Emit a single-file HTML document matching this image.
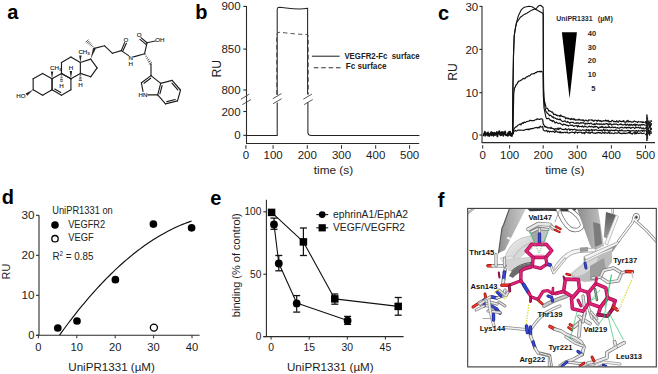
<!DOCTYPE html>
<html><head><meta charset="utf-8"><style>
html,body{margin:0;padding:0;background:#fff;width:658px;height:374px;overflow:hidden;}
svg{display:block;font-family:"Liberation Sans", sans-serif;}
</style></head><body>
<svg width="658" height="374" viewBox="0 0 658 374">
<rect width="658" height="374" fill="#fff"/>
<text x="7.20" y="18.80" font-size="20" text-anchor="start" font-weight="bold" fill="#000" >a</text>
<text x="195.20" y="19.10" font-size="20" text-anchor="start" font-weight="bold" fill="#000" >b</text>
<text x="438.00" y="19.80" font-size="20" text-anchor="start" font-weight="bold" fill="#000" >c</text>
<text x="1.70" y="204.00" font-size="20" text-anchor="start" font-weight="bold" fill="#000" >d</text>
<text x="210.30" y="204.60" font-size="20" text-anchor="start" font-weight="bold" fill="#000" >e</text>
<text x="437.80" y="207.00" font-size="20" text-anchor="start" font-weight="bold" fill="#000" >f</text>
<polygon points="33.16,89.75 25.58,93.46 27.22,95.74" fill="#222"/>
<polygon points="52.04,78.85 53.24,71.40 50.84,71.40" fill="#222"/>
<polygon points="80.36,62.50 81.56,55.60 79.16,55.60" fill="#222"/>
<polygon points="70.92,78.85 72.12,71.00 69.72,71.00" fill="#222"/>
<polygon points="90.70,59.10 95.72,48.86 93.08,47.94" fill="#222"/>
<g stroke="#1e1e1e" stroke-width="1.15" stroke-linecap="round"><line x1="42.60" y1="73.40" x2="52.04" y2="78.85"/><line x1="52.04" y1="78.85" x2="52.04" y2="89.75"/><line x1="52.04" y1="89.75" x2="42.60" y2="95.20"/><line x1="42.60" y1="95.20" x2="33.16" y2="89.75"/><line x1="33.16" y1="89.75" x2="33.16" y2="78.85"/><line x1="33.16" y1="78.85" x2="42.60" y2="73.40"/><line x1="61.48" y1="73.40" x2="70.92" y2="78.85"/><line x1="70.92" y1="78.85" x2="70.92" y2="89.75"/><line x1="70.92" y1="89.75" x2="61.48" y2="95.20"/><line x1="61.48" y1="95.20" x2="52.04" y2="89.75"/><line x1="52.04" y1="89.75" x2="52.04" y2="78.85"/><line x1="52.04" y1="78.85" x2="61.48" y2="73.40"/><line x1="70.92" y1="57.05" x2="80.36" y2="62.50"/><line x1="80.36" y1="62.50" x2="80.36" y2="73.40"/><line x1="80.36" y1="73.40" x2="70.92" y2="78.85"/><line x1="70.92" y1="78.85" x2="61.48" y2="73.40"/><line x1="61.48" y1="73.40" x2="61.48" y2="62.50"/><line x1="61.48" y1="62.50" x2="70.92" y2="57.05"/><line x1="80.36" y1="62.50" x2="90.70" y2="59.10"/><line x1="90.70" y1="59.10" x2="97.10" y2="67.95"/><line x1="97.10" y1="67.95" x2="90.70" y2="76.80"/><line x1="90.70" y1="76.80" x2="80.36" y2="73.40"/><line x1="54.74" y1="89.00" x2="60.78" y2="92.49"/><line x1="61.61" y1="74.26" x2="61.35" y2="74.26" stroke-width="0.8"/><line x1="61.87" y1="75.98" x2="61.09" y2="75.98" stroke-width="0.8"/><line x1="62.13" y1="77.70" x2="60.83" y2="77.70" stroke-width="0.8"/><line x1="62.39" y1="79.42" x2="60.57" y2="79.42" stroke-width="0.8"/><line x1="62.65" y1="81.14" x2="60.31" y2="81.14" stroke-width="0.8"/><line x1="80.49" y1="74.18" x2="80.23" y2="74.18" stroke-width="0.8"/><line x1="80.75" y1="75.74" x2="79.97" y2="75.74" stroke-width="0.8"/><line x1="81.01" y1="77.30" x2="79.71" y2="77.30" stroke-width="0.8"/><line x1="81.27" y1="78.86" x2="79.45" y2="78.86" stroke-width="0.8"/><line x1="81.53" y1="80.42" x2="79.19" y2="80.42" stroke-width="0.8"/><line x1="93.74" y1="47.91" x2="93.91" y2="47.74" stroke-width="0.8"/><line x1="92.43" y1="46.94" x2="92.94" y2="46.43" stroke-width="0.8"/><line x1="91.11" y1="45.97" x2="91.97" y2="45.11" stroke-width="0.8"/><line x1="89.80" y1="45.00" x2="91.00" y2="43.80" stroke-width="0.8"/><line x1="88.48" y1="44.03" x2="90.03" y2="42.48" stroke-width="0.8"/><line x1="87.17" y1="43.06" x2="89.06" y2="41.17" stroke-width="0.8"/><line x1="85.86" y1="42.09" x2="88.09" y2="39.86" stroke-width="0.8"/><line x1="94.40" y1="48.40" x2="104.60" y2="45.80"/><line x1="104.60" y1="45.80" x2="112.50" y2="53.30"/><line x1="112.50" y1="53.30" x2="121.30" y2="50.60"/><line x1="121.30" y1="50.60" x2="124.60" y2="42.60"/><line x1="122.80" y1="51.00" x2="126.40" y2="43.30"/><line x1="121.30" y1="50.60" x2="128.60" y2="55.60"/><line x1="133.60" y1="56.90" x2="144.60" y2="53.70"/><line x1="144.60" y1="53.70" x2="147.00" y2="42.80"/><line x1="147.00" y1="42.80" x2="141.00" y2="37.60"/><line x1="146.00" y1="44.40" x2="140.00" y2="39.40"/><line x1="147.00" y1="42.80" x2="155.20" y2="41.00"/><line x1="145.25" y1="54.51" x2="145.02" y2="54.64" stroke-width="0.8"/><line x1="146.54" y1="56.12" x2="145.86" y2="56.53" stroke-width="0.8"/><line x1="147.84" y1="57.73" x2="146.70" y2="58.42" stroke-width="0.8"/><line x1="149.13" y1="59.34" x2="147.54" y2="60.31" stroke-width="0.8"/><line x1="150.42" y1="60.95" x2="148.38" y2="62.20" stroke-width="0.8"/><line x1="151.72" y1="62.56" x2="149.21" y2="64.09" stroke-width="0.8"/><line x1="151.00" y1="64.20" x2="151.00" y2="75.60"/><line x1="151.00" y1="75.60" x2="141.40" y2="82.80"/><line x1="151.00" y1="75.60" x2="160.70" y2="83.40"/><line x1="160.70" y1="83.40" x2="157.70" y2="94.80"/><line x1="160.70" y1="83.40" x2="172.10" y2="80.40"/><line x1="172.10" y1="80.40" x2="180.50" y2="90.00"/><line x1="180.50" y1="90.00" x2="177.50" y2="100.90"/><line x1="177.50" y1="100.90" x2="165.50" y2="103.90"/><line x1="165.50" y1="103.90" x2="157.70" y2="94.80"/><line x1="141.40" y1="82.80" x2="143.00" y2="91.50"/><line x1="147.80" y1="94.80" x2="157.70" y2="94.80"/><line x1="150.70" y1="78.20" x2="143.98" y2="83.24"/><line x1="162.09" y1="85.59" x2="159.99" y2="93.57"/><line x1="171.93" y1="83.09" x2="177.81" y2="89.81"/><line x1="175.24" y1="99.51" x2="166.84" y2="101.61"/></g>
<text x="21.00" y="98.20" font-size="6.2" text-anchor="middle" fill="#111" stroke="#111" stroke-width="0.12">HO</text>
<text x="50.00" y="69.80" font-size="6.2" text-anchor="start" fill="#111" stroke="#111" stroke-width="0.12">CH<tspan font-size="4.4" dy="1.2">3</tspan></text>
<text x="78.40" y="54.00" font-size="6.2" text-anchor="start" fill="#111" stroke="#111" stroke-width="0.12">CH<tspan font-size="4.4" dy="1.2">3</tspan></text>
<text x="61.50" y="87.80" font-size="6.2" text-anchor="middle" fill="#111" stroke="#111" stroke-width="0.12">H</text>
<text x="71.00" y="69.80" font-size="6.2" text-anchor="middle" fill="#111" stroke="#111" stroke-width="0.12">H</text>
<text x="80.40" y="86.60" font-size="6.2" text-anchor="middle" fill="#111" stroke="#111" stroke-width="0.12">H</text>
<text x="125.90" y="41.80" font-size="6.2" text-anchor="middle" fill="#111" stroke="#111" stroke-width="0.12">O</text>
<text x="130.80" y="60.40" font-size="6.2" text-anchor="middle" fill="#111" stroke="#111" stroke-width="0.12">N</text>
<text x="130.80" y="65.80" font-size="6.2" text-anchor="middle" fill="#111" stroke="#111" stroke-width="0.12">H</text>
<text x="139.20" y="36.60" font-size="6.2" text-anchor="middle" fill="#111" stroke="#111" stroke-width="0.12">O</text>
<text x="155.20" y="41.90" font-size="6.2" text-anchor="start" fill="#111" stroke="#111" stroke-width="0.12">OH</text>
<text x="143.00" y="96.90" font-size="6.2" text-anchor="middle" fill="#111" stroke="#111" stroke-width="0.12">HN</text>
<line x1="246.50" y1="6.00" x2="246.50" y2="143.50" stroke="#2a2a2a" stroke-width="1.1" />
<line x1="246.00" y1="143.50" x2="419.20" y2="143.50" stroke="#2a2a2a" stroke-width="1.1" />
<line x1="243.30" y1="6.40" x2="246.50" y2="6.40" stroke="#2a2a2a" stroke-width="1.1" />
<text x="240.60" y="10.40" font-size="11.5" text-anchor="end" font-weight="normal" fill="#1c1c1c" >900</text>
<line x1="243.30" y1="49.10" x2="246.50" y2="49.10" stroke="#2a2a2a" stroke-width="1.1" />
<text x="240.60" y="53.10" font-size="11.5" text-anchor="end" font-weight="normal" fill="#1c1c1c" >850</text>
<line x1="243.30" y1="90.00" x2="246.50" y2="90.00" stroke="#2a2a2a" stroke-width="1.1" />
<text x="240.60" y="94.00" font-size="11.5" text-anchor="end" font-weight="normal" fill="#1c1c1c" >800</text>
<line x1="243.30" y1="111.50" x2="246.50" y2="111.50" stroke="#2a2a2a" stroke-width="1.1" />
<text x="240.60" y="115.50" font-size="11.5" text-anchor="end" font-weight="normal" fill="#1c1c1c" >200</text>
<line x1="243.30" y1="135.30" x2="246.50" y2="135.30" stroke="#2a2a2a" stroke-width="1.1" />
<text x="240.60" y="139.30" font-size="11.5" text-anchor="end" font-weight="normal" fill="#1c1c1c" >0</text>
<line x1="245.90" y1="145.20" x2="245.90" y2="148.80" stroke="#2a2a2a" stroke-width="1.0" />
<text x="245.90" y="158.50" font-size="11.5" text-anchor="middle" font-weight="normal" fill="#1c1c1c" >0</text>
<line x1="273.10" y1="145.20" x2="273.10" y2="148.80" stroke="#2a2a2a" stroke-width="1.0" />
<text x="273.10" y="158.50" font-size="11.5" text-anchor="middle" font-weight="normal" fill="#1c1c1c" >100</text>
<line x1="307.30" y1="145.20" x2="307.30" y2="148.80" stroke="#2a2a2a" stroke-width="1.0" />
<text x="307.30" y="158.50" font-size="11.5" text-anchor="middle" font-weight="normal" fill="#1c1c1c" >200</text>
<line x1="341.50" y1="145.20" x2="341.50" y2="148.80" stroke="#2a2a2a" stroke-width="1.0" />
<text x="341.50" y="158.50" font-size="11.5" text-anchor="middle" font-weight="normal" fill="#1c1c1c" >300</text>
<line x1="375.70" y1="145.20" x2="375.70" y2="148.80" stroke="#2a2a2a" stroke-width="1.0" />
<text x="375.70" y="158.50" font-size="11.5" text-anchor="middle" font-weight="normal" fill="#1c1c1c" >400</text>
<line x1="409.60" y1="145.20" x2="409.60" y2="148.80" stroke="#2a2a2a" stroke-width="1.0" />
<text x="409.60" y="158.50" font-size="11.5" text-anchor="middle" font-weight="normal" fill="#1c1c1c" >500</text>
<text x="333.40" y="173.90" font-size="11.8" text-anchor="middle" font-weight="normal" fill="#1c1c1c" >time (s)</text>
<text transform="translate(220.6,68.8) rotate(-90)" font-size="12.2" text-anchor="middle" fill="#1c1c1c">RU</text>
<line x1="240.80" y1="99.30" x2="249.30" y2="94.10" stroke="#444" stroke-width="0.9" />
<line x1="242.30" y1="104.60" x2="250.90" y2="99.60" stroke="#444" stroke-width="0.9" />
<line x1="272.80" y1="98.70" x2="281.40" y2="93.60" stroke="#444" stroke-width="0.9" />
<line x1="273.10" y1="103.70" x2="281.60" y2="98.70" stroke="#444" stroke-width="0.9" />
<line x1="303.30" y1="99.20" x2="311.90" y2="94.10" stroke="#444" stroke-width="0.9" />
<line x1="304.10" y1="104.60" x2="312.70" y2="99.50" stroke="#444" stroke-width="0.9" />
<path d="M246.5,135.4 H277.2 V102.6 M277.2,95.0 V9.2 Q277.4,7.3 279.5,7.3 C287,7.8 297,10.2 307.6,8.3 V94.4 M307.9,102.6 V133.0 Q308.2,135.5 311.5,135.5 H419.4" fill="none" stroke="#222" stroke-width="1.05"/>
<path d="M276.7,94.5 V35 Q276.9,32.0 280.0,32.2 C286,32.9 295,34.3 307.4,34.5 Q308.3,34.6 308.3,37 V94.5" fill="none" stroke="#444" stroke-width="0.9" stroke-dasharray="4.5,3"/>
<line x1="311.90" y1="56.20" x2="339.60" y2="56.20" stroke="#222" stroke-width="1.05" />
<text x="344.40" y="58.90" font-size="8.4" text-anchor="start" font-weight="bold" fill="#222" textLength="75.2" lengthAdjust="spacingAndGlyphs">VEGFR2-Fc&#160; surface</text>
<line x1="313.80" y1="67.70" x2="341.60" y2="67.70" stroke="#333" stroke-width="1.05" stroke-dasharray="4.6,2.8"/>
<text x="345.70" y="69.30" font-size="8.4" text-anchor="start" font-weight="bold" fill="#222" textLength="40.8" lengthAdjust="spacingAndGlyphs">Fc surface</text>
<line x1="482.00" y1="6.00" x2="482.00" y2="142.60" stroke="#2a2a2a" stroke-width="1.1" />
<line x1="481.50" y1="142.60" x2="655.00" y2="142.60" stroke="#2a2a2a" stroke-width="1.1" />
<line x1="479.40" y1="6.40" x2="482.00" y2="6.40" stroke="#2a2a2a" stroke-width="1.1" />
<text x="478.20" y="10.90" font-size="11.5" text-anchor="end" font-weight="normal" fill="#1c1c1c" >30</text>
<line x1="479.40" y1="49.40" x2="482.00" y2="49.40" stroke="#2a2a2a" stroke-width="1.1" />
<text x="478.20" y="53.90" font-size="11.5" text-anchor="end" font-weight="normal" fill="#1c1c1c" >20</text>
<line x1="479.40" y1="92.70" x2="482.00" y2="92.70" stroke="#2a2a2a" stroke-width="1.1" />
<text x="478.20" y="97.20" font-size="11.5" text-anchor="end" font-weight="normal" fill="#1c1c1c" >10</text>
<line x1="479.40" y1="135.00" x2="482.00" y2="135.00" stroke="#2a2a2a" stroke-width="1.1" />
<text x="478.20" y="139.50" font-size="11.5" text-anchor="end" font-weight="normal" fill="#1c1c1c" >0</text>
<line x1="482.70" y1="145.20" x2="482.70" y2="148.60" stroke="#2a2a2a" stroke-width="1.0" />
<text x="482.70" y="159.00" font-size="11.5" text-anchor="middle" font-weight="normal" fill="#1c1c1c" >0</text>
<line x1="509.60" y1="145.20" x2="509.60" y2="148.60" stroke="#2a2a2a" stroke-width="1.0" />
<text x="509.60" y="159.00" font-size="11.5" text-anchor="middle" font-weight="normal" fill="#1c1c1c" >100</text>
<line x1="543.20" y1="145.20" x2="543.20" y2="148.60" stroke="#2a2a2a" stroke-width="1.0" />
<text x="543.20" y="159.00" font-size="11.5" text-anchor="middle" font-weight="normal" fill="#1c1c1c" >200</text>
<line x1="577.30" y1="145.20" x2="577.30" y2="148.60" stroke="#2a2a2a" stroke-width="1.0" />
<text x="577.30" y="159.00" font-size="11.5" text-anchor="middle" font-weight="normal" fill="#1c1c1c" >300</text>
<line x1="611.40" y1="145.20" x2="611.40" y2="148.60" stroke="#2a2a2a" stroke-width="1.0" />
<text x="611.40" y="159.00" font-size="11.5" text-anchor="middle" font-weight="normal" fill="#1c1c1c" >400</text>
<line x1="645.50" y1="145.20" x2="645.50" y2="148.60" stroke="#2a2a2a" stroke-width="1.0" />
<text x="645.50" y="159.00" font-size="11.5" text-anchor="middle" font-weight="normal" fill="#1c1c1c" >500</text>
<text x="564.80" y="174.00" font-size="11.8" text-anchor="middle" font-weight="normal" fill="#1c1c1c" >time (s)</text>
<text transform="translate(457.4,72.0) rotate(-90)" font-size="12.2" text-anchor="middle" fill="#1c1c1c">RU</text>
<polyline points="483.50,136.15 483.95,134.52 484.40,134.12 484.85,131.76 485.30,133.67 485.75,133.57 486.20,133.90 486.65,133.25 487.10,133.95 487.55,133.43 488.00,132.42 488.45,135.06 488.90,135.06 489.35,136.05 489.80,134.06 490.25,133.51 490.70,133.35 491.15,132.14 491.60,135.18 492.05,132.68 492.50,132.58 492.95,133.75 493.40,135.78 493.85,134.28 494.30,132.77 494.75,133.14 495.20,134.75 495.65,133.81 496.10,133.08 496.55,133.72 497.00,134.89 497.45,136.37 497.90,132.51 498.35,133.25 498.80,133.04 499.25,131.10 499.70,132.89 500.15,132.77 500.60,135.35 501.05,133.84 501.50,132.05 501.95,134.78 502.40,133.57 502.85,131.91 503.30,133.28 503.75,133.29 504.20,132.95 504.65,134.04 505.10,131.30 505.55,133.68 506.00,135.22 506.45,135.02 506.90,135.33 507.35,135.34 507.80,135.79 508.25,132.66 508.70,135.02 509.15,131.77 509.60,133.28 510.05,131.70 510.50,135.26 510.95,135.60 511.40,133.76 511.85,136.13 512.30,133.19 512.75,134.18" fill="none" stroke="#111" stroke-width="1.8" stroke-linejoin="round" />
<polyline points="483.50,134.44 484.10,133.34 484.70,134.69 485.30,136.05 485.90,133.38 486.50,135.11 487.10,134.16 487.70,135.89 488.30,134.74 488.90,134.91 489.50,134.88 490.10,134.52 490.70,133.04 491.30,135.55 491.90,133.07 492.50,134.51 493.10,134.85 493.70,133.55 494.30,134.43 494.90,135.35 495.50,134.28 496.10,133.50 496.70,131.68 497.30,133.43 497.90,133.77 498.50,133.84 499.10,133.44 499.70,134.64 500.30,133.78 500.90,134.20 501.50,134.91 502.10,133.53 502.70,134.03 503.30,136.24 503.90,135.09 504.50,133.14 505.10,134.23 505.70,134.81 506.30,135.41 506.90,134.43 507.50,133.82 508.10,133.64 508.70,134.88 509.30,134.58 509.90,133.84 510.50,134.13 511.10,133.93 511.70,134.95 512.30,133.68 512.90,134.74" fill="none" stroke="#111" stroke-width="1.2" stroke-linejoin="round" />
<polyline points="512.60,134.00 512.90,90.00 513.50,55.00 514.20,36.00 515.40,28.00 516.60,22.10 518.50,15.40 521.40,9.60 524.30,7.20 529.10,6.30 532.00,6.70 535.80,9.10 537.50,7.00 538.70,5.80 540.60,5.30 543.00,7.20 543.30,8.50" fill="none" stroke="#111" stroke-width="1.1" stroke-linejoin="round" />
<polyline points="512.60,134.00 512.90,90.00 513.50,55.00 514.20,36.00 515.40,28.00 516.60,22.60 520.40,17.30 524.30,14.40 527.20,13.00 531.00,10.60 534.90,9.10 537.80,10.60 543.20,13.50" fill="none" stroke="#111" stroke-width="1.1" stroke-linejoin="round" />
<polyline points="512.90,134.30 513.70,93.67 514.50,88.20 515.30,86.93 516.10,84.79 516.90,84.10 517.70,82.61 518.50,81.19 519.30,81.19 520.10,80.76 520.90,80.18 521.70,79.85 522.50,79.07 523.30,78.58 524.10,78.32 524.90,78.60 525.70,77.79 526.50,76.92 527.30,76.90 528.10,76.13 528.90,75.74 529.70,75.80 530.50,74.92 531.30,74.11 532.10,73.99 532.90,73.95 533.70,73.58 534.50,73.58 535.30,72.51 536.10,72.62 536.90,72.13 537.70,71.54 538.50,71.72 539.30,71.65 540.10,71.22 540.90,71.95 541.70,71.34 542.50,72.11" fill="none" stroke="#111" stroke-width="1.2" stroke-linejoin="round" />
<polyline points="512.90,134.00 513.70,129.88 514.50,127.95 515.30,127.52 516.10,126.81 516.90,126.54 517.70,125.24 518.50,125.00 519.30,124.53 520.10,123.83 520.90,124.87 521.70,123.57 522.50,122.73 523.30,123.40 524.10,122.18 524.90,122.38 525.70,122.35 526.50,121.62 527.30,121.49 528.10,121.25 528.90,121.19 529.70,120.47 530.50,120.40 531.30,120.58 532.10,120.79 532.90,120.51 533.70,120.77 534.50,120.28 535.30,119.73 536.10,119.73 536.90,118.94 537.70,119.19 538.50,119.04 539.30,119.36 540.10,119.37 540.90,118.82 541.70,118.75 542.50,118.90" fill="none" stroke="#111" stroke-width="1.2" stroke-linejoin="round" />
<polyline points="512.90,133.96 513.70,131.22 514.50,131.04 515.30,130.35 516.10,131.09 516.90,130.77 517.70,130.28 518.50,130.09 519.30,130.12 520.10,130.24 520.90,130.12 521.70,130.22 522.50,130.26 523.30,130.40 524.10,130.25 524.90,129.72 525.70,129.75 526.50,129.33 527.30,129.11 528.10,129.83 528.90,128.86 529.70,129.56 530.50,128.60 531.30,128.66 532.10,128.80 532.90,128.29 533.70,128.29 534.50,127.93 535.30,127.72 536.10,127.69 536.90,127.39 537.70,128.05 538.50,127.29 539.30,127.82 540.10,126.14 540.90,126.96 541.70,127.03 542.50,126.61" fill="none" stroke="#111" stroke-width="1.2" stroke-linejoin="round" />
<polyline points="543.20,8.50 543.30,60.00 543.50,90.00 544.20,100.00 546.00,107.20" fill="none" stroke="#111" stroke-width="1.1" stroke-linejoin="round" />
<polyline points="546.00,107.69 546.70,108.15 547.40,108.41 548.10,109.39 548.80,111.13 549.50,110.64 550.20,111.27 550.90,111.41 551.60,112.14 552.30,111.97 553.00,112.94 553.70,114.60 554.40,114.32 555.10,114.37 555.80,114.83 556.50,115.42 557.20,115.09 557.90,116.00 558.60,115.79 559.30,115.63 560.00,116.57 560.70,114.98 561.40,116.03 562.10,116.65 562.80,116.32 563.50,116.86 564.20,116.85 564.90,117.04 565.60,118.76 566.30,118.02 567.00,117.91 567.70,118.73 568.40,118.23 569.10,118.94 569.80,118.90 570.50,119.59 571.20,118.31 571.90,119.37 572.60,119.17 573.30,118.68 574.00,119.76 574.70,118.97 575.40,120.18 576.10,119.76 576.80,119.93 577.50,119.74 578.20,120.19 578.90,119.03 579.60,119.99 580.30,119.73 581.00,120.17 581.70,120.06 582.40,120.39 583.10,119.76 583.80,121.00 584.50,121.24 585.20,120.14 585.90,120.26 586.60,120.43 587.30,120.90 588.00,121.21 588.70,119.85 589.40,120.15 590.10,119.98 590.80,119.99 591.50,119.78 592.20,120.71 592.90,120.06 593.60,121.29 594.30,121.05 595.00,120.21 595.70,120.24 596.40,120.46 597.10,121.40 597.80,120.42 598.50,120.16 599.20,120.84 599.90,121.06 600.60,120.62 601.30,121.67 602.00,121.07 602.70,121.18 603.40,120.62 604.10,121.01 604.80,120.97 605.50,120.04 606.20,121.22 606.90,120.30 607.60,121.12 608.30,120.49 609.00,122.08 609.70,121.34 610.40,121.60 611.10,121.65 611.80,120.66 612.50,120.25 613.20,121.15 613.90,121.72 614.60,121.38 615.30,121.71 616.00,121.80 616.70,120.73 617.40,121.55 618.10,122.33 618.80,121.21 619.50,120.57 620.20,121.40 620.90,121.31 621.60,121.72 622.30,121.14 623.00,121.60 623.70,120.58 624.40,121.97 625.10,122.32 625.80,122.20 626.50,120.95 627.20,121.79 627.90,120.32 628.60,121.80 629.30,121.66 630.00,121.25 630.70,121.87 631.40,121.79 632.10,122.16 632.80,121.81 633.50,121.88 634.20,120.91 634.90,121.28 635.60,121.60 636.30,121.96 637.00,121.84 637.70,122.53 638.40,121.48 639.10,121.77 639.80,122.01 640.50,121.81 641.20,122.15 641.90,121.68 642.60,122.59 643.30,121.82 644.00,122.48 644.70,121.98" fill="none" stroke="#111" stroke-width="1.2" stroke-linejoin="round" />
<polyline points="543.20,13.50 543.40,70.00 543.80,98.00 544.80,106.00 546.00,112.00" fill="none" stroke="#111" stroke-width="1.1" stroke-linejoin="round" />
<polyline points="546.00,112.67 546.70,112.00 547.40,113.49 548.10,113.70 548.80,114.62 549.50,115.69 550.20,115.22 550.90,115.59 551.60,116.19 552.30,117.21 553.00,116.70 553.70,118.05 554.40,117.74 555.10,118.02 555.80,118.57 556.50,119.12 557.20,118.88 557.90,119.15 558.60,119.56 559.30,119.67 560.00,118.80 560.70,120.02 561.40,120.46 562.10,121.12 562.80,121.70 563.50,121.24 564.20,121.13 564.90,120.82 565.60,121.45 566.30,121.92 567.00,122.29 567.70,121.49 568.40,122.15 569.10,122.56 569.80,123.19 570.50,122.56 571.20,122.25 571.90,122.24 572.60,122.45 573.30,122.37 574.00,123.09 574.70,123.26 575.40,123.16 576.10,123.42 576.80,122.74 577.50,123.17 578.20,122.88 578.90,123.13 579.60,123.72 580.30,123.20 581.00,122.40 581.70,123.15 582.40,122.98 583.10,122.64 583.80,123.00 584.50,123.81 585.20,124.16 585.90,123.22 586.60,123.92 587.30,124.02 588.00,123.00 588.70,123.53 589.40,123.56 590.10,123.68 590.80,122.91 591.50,123.50 592.20,124.16 592.90,124.28 593.60,124.57 594.30,123.62 595.00,124.64 595.70,124.13 596.40,123.24 597.10,124.23 597.80,123.75 598.50,124.17 599.20,123.92 599.90,124.54 600.60,124.13 601.30,123.91 602.00,124.49 602.70,124.20 603.40,123.92 604.10,124.70 604.80,123.96 605.50,123.88 606.20,123.94 606.90,123.55 607.60,123.98 608.30,125.09 609.00,123.86 609.70,124.29 610.40,123.81 611.10,124.06 611.80,125.04 612.50,124.78 613.20,124.12 613.90,124.42 614.60,124.07 615.30,124.11 616.00,124.07 616.70,124.10 617.40,124.67 618.10,124.81 618.80,124.78 619.50,124.51 620.20,123.99 620.90,124.58 621.60,124.21 622.30,125.03 623.00,124.90 623.70,125.00 624.40,124.51 625.10,123.87 625.80,125.12 626.50,125.26 627.20,124.05 627.90,124.79 628.60,125.27 629.30,124.26 630.00,125.56 630.70,124.61 631.40,124.30 632.10,125.41 632.80,124.94 633.50,124.52 634.20,125.22 634.90,123.96 635.60,125.67 636.30,124.49 637.00,125.00 637.70,124.70 638.40,125.09 639.10,125.31 639.80,124.55 640.50,125.28 641.20,124.81 641.90,124.64 642.60,124.86 643.30,124.52 644.00,124.63 644.70,125.42" fill="none" stroke="#111" stroke-width="1.2" stroke-linejoin="round" />
<polyline points="543.00,72.30 543.30,95.00 544.00,108.00 546.00,117.70" fill="none" stroke="#111" stroke-width="1.1" stroke-linejoin="round" />
<polyline points="546.00,117.63 546.70,118.60 547.40,118.66 548.10,118.39 548.80,118.39 549.50,119.32 550.20,120.13 550.90,120.40 551.60,120.41 552.30,121.55 553.00,120.54 553.70,120.99 554.40,121.84 555.10,122.99 555.80,122.42 556.50,122.01 557.20,122.96 557.90,123.23 558.60,123.57 559.30,123.19 560.00,123.24 560.70,123.81 561.40,124.09 562.10,124.78 562.80,125.16 563.50,124.04 564.20,124.29 564.90,124.65 565.60,124.72 566.30,125.20 567.00,125.36 567.70,125.41 568.40,126.05 569.10,125.53 569.80,125.28 570.50,125.13 571.20,125.41 571.90,125.44 572.60,125.11 573.30,126.30 574.00,126.12 574.70,125.89 575.40,125.72 576.10,125.45 576.80,125.79 577.50,127.08 578.20,125.30 578.90,126.40 579.60,126.71 580.30,126.47 581.00,126.29 581.70,126.80 582.40,125.98 583.10,126.74 583.80,127.16 584.50,126.07 585.20,126.19 585.90,126.64 586.60,127.04 587.30,127.22 588.00,126.95 588.70,126.36 589.40,126.18 590.10,126.81 590.80,126.90 591.50,126.25 592.20,126.79 592.90,126.94 593.60,127.28 594.30,126.38 595.00,127.10 595.70,126.34 596.40,126.70 597.10,126.88 597.80,127.62 598.50,128.45 599.20,127.09 599.90,127.22 600.60,127.47 601.30,126.42 602.00,127.39 602.70,126.51 603.40,127.82 604.10,127.75 604.80,127.35 605.50,126.77 606.20,127.91 606.90,127.29 607.60,127.24 608.30,127.47 609.00,126.45 609.70,127.44 610.40,127.71 611.10,127.43 611.80,127.36 612.50,126.88 613.20,127.62 613.90,127.44 614.60,127.37 615.30,127.13 616.00,127.79 616.70,127.98 617.40,127.61 618.10,127.86 618.80,128.07 619.50,128.20 620.20,127.61 620.90,127.42 621.60,127.35 622.30,127.55 623.00,127.81 623.70,128.00 624.40,127.40 625.10,127.67 625.80,127.17 626.50,128.20 627.20,127.47 627.90,127.82 628.60,127.35 629.30,127.55 630.00,127.39 630.70,128.48 631.40,127.89 632.10,127.67 632.80,127.33 633.50,127.50 634.20,128.04 634.90,128.55 635.60,127.17 636.30,127.41 637.00,127.76 637.70,127.57 638.40,127.12 639.10,127.89 639.80,128.23 640.50,127.20 641.20,128.02 641.90,128.37 642.60,128.39 643.30,127.78 644.00,129.02 644.70,128.24" fill="none" stroke="#111" stroke-width="1.2" stroke-linejoin="round" />
<polyline points="542.60,119.14 543.30,124.32 544.00,124.86 544.70,126.77 545.40,126.31 546.10,127.38 546.80,126.90 547.50,127.81 548.20,127.77 548.90,127.78 549.60,127.75 550.30,128.35 551.00,127.19 551.70,128.33 552.40,128.43 553.10,128.56 553.80,128.75 554.50,130.12 555.20,128.57 555.90,128.95 556.60,128.73 557.30,129.44 558.00,127.89 558.70,129.63 559.40,128.63 560.10,127.99 560.80,128.59 561.50,129.07 562.20,129.31 562.90,129.27 563.60,129.73 564.30,129.41 565.00,129.47 565.70,128.56 566.40,129.77 567.10,130.02 567.80,129.40 568.50,128.77 569.20,129.04 569.90,130.42 570.60,129.41 571.30,129.41 572.00,129.36 572.70,130.06 573.40,129.52 574.10,129.41 574.80,129.15 575.50,129.80 576.20,130.32 576.90,129.83 577.60,130.32 578.30,130.02 579.00,130.03 579.70,130.07 580.40,130.02 581.10,130.48 581.80,130.25 582.50,129.78 583.20,130.11 583.90,130.02 584.60,130.29 585.30,130.16 586.00,130.28 586.70,129.44 587.40,130.28 588.10,130.71 588.80,129.52 589.50,130.86 590.20,130.29 590.90,130.07 591.60,129.36 592.30,130.67 593.00,129.76 593.70,129.98 594.40,130.46 595.10,129.76 595.80,129.79 596.50,129.73 597.20,130.21 597.90,130.53 598.60,130.46 599.30,130.47 600.00,130.15 600.70,130.37 601.40,130.01 602.10,131.23 602.80,130.43 603.50,129.47 604.20,129.88 604.90,131.09 605.60,129.77 606.30,130.20 607.00,130.59 607.70,129.92 608.40,130.91 609.10,131.19 609.80,130.08 610.50,130.97 611.20,130.07 611.90,130.03 612.60,130.60 613.30,130.61 614.00,130.24 614.70,130.90 615.40,129.87 616.10,130.16 616.80,130.07 617.50,130.90 618.20,130.93 618.90,130.88 619.60,130.01 620.30,130.66 621.00,130.82 621.70,129.90 622.40,130.27 623.10,130.94 623.80,130.98 624.50,130.79 625.20,130.93 625.90,130.84 626.60,130.77 627.30,130.67 628.00,130.34 628.70,130.63 629.40,130.57 630.10,131.80 630.80,130.89 631.50,130.78 632.20,130.69 632.90,130.75 633.60,130.70 634.30,131.07 635.00,130.83 635.70,131.22 636.40,130.55 637.10,131.03 637.80,131.28 638.50,130.38 639.20,130.98 639.90,131.03 640.60,130.78 641.30,130.72 642.00,130.12 642.70,131.48 643.40,130.55 644.10,130.43 644.80,131.29" fill="none" stroke="#111" stroke-width="1.2" stroke-linejoin="round" />
<polyline points="542.60,125.88 543.30,130.02 544.00,130.47 544.70,130.87 545.40,130.85 546.10,130.66 546.80,130.41 547.50,131.97 548.20,131.16 548.90,131.20 549.60,132.19 550.30,131.25 551.00,131.49 551.70,131.54 552.40,131.64 553.10,131.29 553.80,131.56 554.50,132.45 555.20,132.27 555.90,130.64 556.60,131.15 557.30,132.24 558.00,132.09 558.70,132.03 559.40,132.72 560.10,131.50 560.80,132.85 561.50,132.38 562.20,132.58 562.90,132.46 563.60,132.73 564.30,132.25 565.00,132.13 565.70,132.74 566.40,132.47 567.10,131.84 567.80,133.02 568.50,132.97 569.20,133.09 569.90,132.48 570.60,132.62 571.30,132.30 572.00,132.04 572.70,132.52 573.40,132.58 574.10,132.21 574.80,133.35 575.50,131.81 576.20,132.18 576.90,132.25 577.60,133.15 578.30,132.46 579.00,132.44 579.70,132.20 580.40,132.26 581.10,132.02 581.80,133.07 582.50,132.90 583.20,133.08 583.90,132.34 584.60,133.78 585.30,132.21 586.00,131.74 586.70,132.54 587.40,132.74 588.10,133.02 588.80,132.23 589.50,132.96 590.20,133.47 590.90,132.33 591.60,132.38 592.30,131.96 593.00,132.84 593.70,133.12 594.40,133.09 595.10,133.13 595.80,133.40 596.50,132.82 597.20,133.20 597.90,132.35 598.60,132.43 599.30,132.90 600.00,132.43 600.70,133.06 601.40,133.43 602.10,133.00 602.80,132.50 603.50,132.50 604.20,133.46 604.90,132.49 605.60,132.90 606.30,132.75 607.00,132.89 607.70,133.37 608.40,132.64 609.10,132.26 609.80,133.55 610.50,133.01 611.20,133.24 611.90,132.91 612.60,133.28 613.30,133.50 614.00,133.55 614.70,132.82 615.40,132.80 616.10,133.14 616.80,133.06 617.50,133.23 618.20,132.66 618.90,131.94 619.60,133.20 620.30,133.36 621.00,133.30 621.70,133.77 622.40,133.41 623.10,132.86 623.80,133.49 624.50,133.02 625.20,133.63 625.90,133.18 626.60,133.28 627.30,133.19 628.00,133.12 628.70,132.43 629.40,133.14 630.10,132.10 630.80,133.35 631.50,133.58 632.20,134.07 632.90,133.32 633.60,132.84 634.30,132.46 635.00,134.06 635.70,132.55 636.40,133.60 637.10,132.17 637.80,133.19 638.50,133.53 639.20,133.38 639.90,133.22 640.60,132.88 641.30,132.85 642.00,133.72 642.70,133.47 643.40,133.21 644.10,133.38 644.80,132.88" fill="none" stroke="#111" stroke-width="1.2" stroke-linejoin="round" />
<polyline points="645.00,123.23 645.35,123.51 645.70,121.06 646.05,122.12 646.40,123.26 646.75,121.23 647.10,124.44 647.45,123.81 647.80,121.67 648.15,123.17 648.50,123.99 648.85,120.51 649.20,122.74 649.55,121.83 649.90,121.74 650.25,122.85 650.60,121.43 650.95,120.32 651.30,120.29 651.65,121.98" fill="none" stroke="#111" stroke-width="0.9" stroke-linejoin="round" />
<polyline points="645.00,125.75 645.35,124.97 645.70,124.82 646.05,124.96 646.40,126.55 646.75,125.64 647.10,124.10 647.45,124.65 647.80,126.45 648.15,124.30 648.50,124.53 648.85,124.97 649.20,123.72 649.55,126.08 649.90,122.37 650.25,126.74 650.60,124.48 650.95,123.49 651.30,125.34 651.65,122.95" fill="none" stroke="#111" stroke-width="0.9" stroke-linejoin="round" />
<polyline points="645.00,128.64 645.35,128.93 645.70,127.31 646.05,127.53 646.40,129.14 646.75,127.20 647.10,128.03 647.45,128.42 647.80,129.87 648.15,127.40 648.50,128.04 648.85,129.36 649.20,124.93 649.55,127.68 649.90,125.71 650.25,125.79 650.60,130.35 650.95,128.25 651.30,129.78 651.65,127.71" fill="none" stroke="#111" stroke-width="0.9" stroke-linejoin="round" />
<polyline points="645.00,131.65 645.35,130.48 645.70,130.34 646.05,130.91 646.40,131.15 646.75,132.84 647.10,130.76 647.45,131.46 647.80,130.69 648.15,131.17 648.50,129.43 648.85,132.31 649.20,130.37 649.55,131.05 649.90,130.74 650.25,132.18 650.60,131.63 650.95,131.02 651.30,131.21 651.65,131.41" fill="none" stroke="#111" stroke-width="0.9" stroke-linejoin="round" />
<polyline points="645.00,134.21 645.35,133.91 645.70,134.84 646.05,135.24 646.40,134.04 646.75,131.71 647.10,135.40 647.45,135.88 647.80,132.86 648.15,132.80 648.50,130.83 648.85,134.24 649.20,132.09 649.55,135.50 649.90,130.33 650.25,133.39 650.60,134.11 650.95,132.82 651.30,132.35 651.65,133.60" fill="none" stroke="#111" stroke-width="0.9" stroke-linejoin="round" />
<line x1="646.90" y1="114.50" x2="646.90" y2="141.00" stroke="#111" stroke-width="1.4" />
<line x1="647.60" y1="117.00" x2="647.60" y2="139.00" stroke="#222" stroke-width="1.0" />
<text x="556.20" y="21.20" font-size="7.4" text-anchor="start" font-weight="bold" fill="#2a2a35" textLength="36.4" lengthAdjust="spacingAndGlyphs">UniPR1331</text>
<text x="597.80" y="21.20" font-size="7.4" text-anchor="start" font-weight="bold" fill="#2a2a35" textLength="15.0" lengthAdjust="spacingAndGlyphs">(µM)</text>
<polygon points="561.9,32.2 576.9,32.2 569.6,98.6" fill="#000"/>
<text x="596.20" y="35.60" font-size="7.6" text-anchor="end" font-weight="bold" fill="#2a2a2a" >40</text>
<text x="596.20" y="49.70" font-size="7.6" text-anchor="end" font-weight="bold" fill="#2a2a2a" >30</text>
<text x="596.20" y="63.20" font-size="7.6" text-anchor="end" font-weight="bold" fill="#2a2a2a" >20</text>
<text x="596.20" y="76.90" font-size="7.6" text-anchor="end" font-weight="bold" fill="#2a2a2a" >10</text>
<text x="595.60" y="91.10" font-size="7.6" text-anchor="end" font-weight="bold" fill="#2a2a2a" >5</text>
<line x1="39.00" y1="215.30" x2="39.00" y2="335.30" stroke="#2a2a2a" stroke-width="1.1" />
<line x1="36.40" y1="335.30" x2="199.60" y2="335.30" stroke="#2a2a2a" stroke-width="1.1" />
<line x1="36.00" y1="215.30" x2="39.00" y2="215.30" stroke="#2a2a2a" stroke-width="1.1" />
<text x="34.50" y="219.40" font-size="11.2" text-anchor="end" font-weight="normal" fill="#1c1c1c" textLength="13.0" lengthAdjust="spacingAndGlyphs">30</text>
<line x1="36.00" y1="255.30" x2="39.00" y2="255.30" stroke="#2a2a2a" stroke-width="1.1" />
<text x="34.50" y="259.40" font-size="11.2" text-anchor="end" font-weight="normal" fill="#1c1c1c" textLength="13.0" lengthAdjust="spacingAndGlyphs">20</text>
<line x1="36.00" y1="295.30" x2="39.00" y2="295.30" stroke="#2a2a2a" stroke-width="1.1" />
<text x="34.50" y="299.40" font-size="11.2" text-anchor="end" font-weight="normal" fill="#1c1c1c" textLength="13.0" lengthAdjust="spacingAndGlyphs">10</text>
<line x1="36.00" y1="335.30" x2="39.00" y2="335.30" stroke="#2a2a2a" stroke-width="1.1" />
<text x="34.50" y="339.40" font-size="11.2" text-anchor="end" font-weight="normal" fill="#1c1c1c" >0</text>
<line x1="38.40" y1="335.30" x2="38.40" y2="338.30" stroke="#2a2a2a" stroke-width="1.0" />
<text x="38.40" y="351.10" font-size="11.2" text-anchor="middle" font-weight="normal" fill="#1c1c1c" >0</text>
<line x1="76.80" y1="335.30" x2="76.80" y2="338.30" stroke="#2a2a2a" stroke-width="1.0" />
<text x="76.80" y="351.10" font-size="11.2" text-anchor="middle" font-weight="normal" fill="#1c1c1c" >10</text>
<line x1="115.20" y1="335.30" x2="115.20" y2="338.30" stroke="#2a2a2a" stroke-width="1.0" />
<text x="115.20" y="351.10" font-size="11.2" text-anchor="middle" font-weight="normal" fill="#1c1c1c" >20</text>
<line x1="153.60" y1="335.30" x2="153.60" y2="338.30" stroke="#2a2a2a" stroke-width="1.0" />
<text x="153.60" y="351.10" font-size="11.2" text-anchor="middle" font-weight="normal" fill="#1c1c1c" >30</text>
<line x1="192.00" y1="335.30" x2="192.00" y2="338.30" stroke="#2a2a2a" stroke-width="1.0" />
<text x="192.00" y="351.10" font-size="11.2" text-anchor="middle" font-weight="normal" fill="#1c1c1c" >40</text>
<text x="111.60" y="370.70" font-size="11.6" text-anchor="middle" font-weight="normal" fill="#1c1c1c" >UniPR1331 (µM)</text>
<text transform="translate(10.2,271.6) rotate(-90)" font-size="10.8" text-anchor="middle" fill="#1c1c1c">RU</text>
<text x="52.20" y="214.30" font-size="10.0" text-anchor="start" font-weight="normal" fill="#222" textLength="60.6" lengthAdjust="spacingAndGlyphs">UniPR1331 on</text>
<circle cx="55.0" cy="225.0" r="3.8" fill="#000"/>
<text x="68.20" y="227.60" font-size="10.0" text-anchor="start" font-weight="normal" fill="#222" textLength="37.0" lengthAdjust="spacingAndGlyphs">VEGFR2</text>
<circle cx="55.0" cy="238.7" r="3.2" fill="none" stroke="#000" stroke-width="1.3"/>
<text x="68.20" y="241.30" font-size="10.0" text-anchor="start" font-weight="normal" fill="#222" textLength="25.4" lengthAdjust="spacingAndGlyphs">VEGF</text>
<text x="52.40" y="259.90" font-size="10.2" text-anchor="start" font-weight="normal" fill="#222" textLength="41" lengthAdjust="spacingAndGlyphs">R<tspan font-size="6.4" dy="-3.9">2</tspan><tspan dy="3.9"> = 0.85</tspan></text>
<circle cx="57.8" cy="328.0" r="3.85" fill="#000"/>
<circle cx="77.0" cy="321.0" r="3.85" fill="#000"/>
<circle cx="115.4" cy="279.7" r="3.85" fill="#000"/>
<circle cx="153.4" cy="224.1" r="3.85" fill="#000"/>
<circle cx="191.6" cy="227.8" r="3.85" fill="#000"/>
<circle cx="153.9" cy="327.6" r="3.55" fill="#fff" stroke="#000" stroke-width="1.3"/>
<polyline points="59.50,335.19 61.74,332.08 63.98,329.02 66.22,326.00 68.46,323.01 70.69,320.07 72.93,317.17 75.17,314.31 77.41,311.48 79.65,308.70 81.89,305.96 84.13,303.26 86.37,300.60 88.61,297.98 90.85,295.40 93.08,292.86 95.32,290.36 97.56,287.90 99.80,285.49 102.04,283.11 104.28,280.77 106.52,278.47 108.76,276.22 111.00,274.00 113.24,271.82 115.47,269.69 117.71,267.59 119.95,265.54 122.19,263.52 124.43,261.55 126.67,259.61 128.91,257.72 131.15,255.87 133.39,254.05 135.63,252.28 137.86,250.55 140.10,248.86 142.34,247.21 144.58,245.59 146.82,244.02 149.06,242.49 151.30,241.00 153.54,239.55 155.78,238.14 158.02,236.77 160.25,235.44 162.49,234.16 164.73,232.91 166.97,231.70 169.21,230.53 171.45,229.40 173.69,228.32 175.93,227.27 178.17,226.26 180.41,225.30 182.64,224.37 184.88,223.49 187.12,222.64 189.36,221.84 191.60,221.07" fill="none" stroke="#111" stroke-width="1.15" stroke-linejoin="round" />
<line x1="266.40" y1="199.80" x2="266.40" y2="336.60" stroke="#2a2a2a" stroke-width="1.1" />
<line x1="263.40" y1="336.60" x2="403.60" y2="336.60" stroke="#2a2a2a" stroke-width="1.1" />
<line x1="263.40" y1="211.80" x2="266.40" y2="211.80" stroke="#2a2a2a" stroke-width="1.1" />
<text x="261.40" y="215.40" font-size="10.2" text-anchor="end" font-weight="normal" fill="#1c1c1c" >100</text>
<line x1="263.40" y1="274.20" x2="266.40" y2="274.20" stroke="#2a2a2a" stroke-width="1.1" />
<text x="261.40" y="277.80" font-size="10.2" text-anchor="end" font-weight="normal" fill="#1c1c1c" >50</text>
<line x1="263.40" y1="336.60" x2="266.40" y2="336.60" stroke="#2a2a2a" stroke-width="1.1" />
<text x="261.40" y="340.20" font-size="10.2" text-anchor="end" font-weight="normal" fill="#1c1c1c" >0</text>
<line x1="271.10" y1="336.60" x2="271.10" y2="339.60" stroke="#2a2a2a" stroke-width="1.0" />
<text x="271.10" y="351.30" font-size="10.4" text-anchor="middle" font-weight="normal" fill="#1c1c1c" >0</text>
<line x1="309.20" y1="336.60" x2="309.20" y2="339.60" stroke="#2a2a2a" stroke-width="1.0" />
<text x="309.20" y="351.30" font-size="10.4" text-anchor="middle" font-weight="normal" fill="#1c1c1c" >15</text>
<line x1="347.30" y1="336.60" x2="347.30" y2="339.60" stroke="#2a2a2a" stroke-width="1.0" />
<text x="347.30" y="351.30" font-size="10.4" text-anchor="middle" font-weight="normal" fill="#1c1c1c" >30</text>
<line x1="385.40" y1="336.60" x2="385.40" y2="339.60" stroke="#2a2a2a" stroke-width="1.0" />
<text x="385.40" y="351.30" font-size="10.4" text-anchor="middle" font-weight="normal" fill="#1c1c1c" >45</text>
<text x="330.30" y="370.60" font-size="11.6" text-anchor="middle" font-weight="normal" fill="#1c1c1c" >UniPR1331 (µM)</text>
<text transform="translate(239.9,265.2) rotate(-90)" font-size="11.0" text-anchor="middle" fill="#1c1c1c">binding (% of control)</text>
<polyline points="274.00,224.10 278.80,263.20 296.70,303.10 347.60,320.40" fill="none" stroke="#111" stroke-width="1.1" stroke-linejoin="round" />
<polyline points="271.60,212.40 303.40,241.90 334.80,298.90 398.20,306.40" fill="none" stroke="#111" stroke-width="1.1" stroke-linejoin="round" />
<line x1="274.00" y1="218.10" x2="274.00" y2="229.00" stroke="#111" stroke-width="1.2" />
<line x1="270.50" y1="218.10" x2="277.50" y2="218.10" stroke="#111" stroke-width="1.3" />
<line x1="270.50" y1="229.30" x2="277.50" y2="229.30" stroke="#111" stroke-width="1.3" />
<line x1="278.80" y1="255.50" x2="278.80" y2="270.50" stroke="#111" stroke-width="1.2" />
<line x1="275.30" y1="255.50" x2="282.30" y2="255.50" stroke="#111" stroke-width="1.3" />
<line x1="275.30" y1="270.80" x2="282.30" y2="270.80" stroke="#111" stroke-width="1.3" />
<line x1="296.70" y1="295.60" x2="296.70" y2="311.80" stroke="#111" stroke-width="1.2" />
<line x1="293.20" y1="295.60" x2="300.20" y2="295.60" stroke="#111" stroke-width="1.3" />
<line x1="293.20" y1="312.10" x2="300.20" y2="312.10" stroke="#111" stroke-width="1.3" />
<line x1="347.60" y1="316.40" x2="347.60" y2="324.10" stroke="#111" stroke-width="1.2" />
<line x1="344.10" y1="316.40" x2="351.10" y2="316.40" stroke="#111" stroke-width="1.3" />
<line x1="344.10" y1="324.40" x2="351.10" y2="324.40" stroke="#111" stroke-width="1.3" />
<line x1="303.40" y1="228.00" x2="303.40" y2="255.20" stroke="#111" stroke-width="1.2" />
<line x1="299.90" y1="228.00" x2="306.90" y2="228.00" stroke="#111" stroke-width="1.3" />
<line x1="299.90" y1="255.50" x2="306.90" y2="255.50" stroke="#111" stroke-width="1.3" />
<line x1="334.80" y1="294.00" x2="334.80" y2="303.90" stroke="#111" stroke-width="1.2" />
<line x1="331.30" y1="294.00" x2="338.30" y2="294.00" stroke="#111" stroke-width="1.3" />
<line x1="331.30" y1="304.20" x2="338.30" y2="304.20" stroke="#111" stroke-width="1.3" />
<line x1="398.20" y1="297.50" x2="398.20" y2="314.90" stroke="#111" stroke-width="1.2" />
<line x1="394.70" y1="297.50" x2="401.70" y2="297.50" stroke="#111" stroke-width="1.3" />
<line x1="394.70" y1="315.20" x2="401.70" y2="315.20" stroke="#111" stroke-width="1.3" />
<circle cx="274.0" cy="224.4" r="3.9" fill="#000"/>
<circle cx="278.8" cy="263.5" r="3.9" fill="#000"/>
<circle cx="296.7" cy="303.40000000000003" r="3.9" fill="#000"/>
<circle cx="347.6" cy="320.7" r="3.9" fill="#000"/>
<rect x="267.85" y="208.65" width="7.5" height="7.5" fill="#000"/>
<rect x="299.65" y="238.15" width="7.5" height="7.5" fill="#000"/>
<rect x="331.05" y="295.15" width="7.5" height="7.5" fill="#000"/>
<rect x="394.45" y="302.65" width="7.5" height="7.5" fill="#000"/>
<line x1="316.30" y1="214.60" x2="328.20" y2="214.60" stroke="#111" stroke-width="1.1" />
<circle cx="322.2" cy="214.6" r="3.4" fill="#000"/>
<line x1="316.30" y1="227.80" x2="328.20" y2="227.80" stroke="#111" stroke-width="1.1" />
<rect x="318.6" y="224.2" width="7.2" height="7.2" fill="#000"/>
<text x="333.00" y="217.90" font-size="10.3" text-anchor="start" font-weight="normal" fill="#222" >ephrinA1/EphA2</text>
<text x="333.00" y="231.20" font-size="10.3" text-anchor="start" font-weight="normal" fill="#222" >VEGF/VEGFR2</text>
<defs><clipPath id="fc"><rect x="468.2" y="208.9" width="187.6" height="157.6"/></clipPath><linearGradient id="g1" x1="0" y1="0" x2="1" y2="0"><stop offset="0" stop-color="#909090"/><stop offset="0.35" stop-color="#a8a8a8"/><stop offset="1" stop-color="#cccccc"/></linearGradient><linearGradient id="g2" x1="0" y1="0" x2="1" y2="0"><stop offset="0" stop-color="#8c8c8c"/><stop offset="1" stop-color="#c4c4c4"/></linearGradient><linearGradient id="g3" x1="0" y1="0" x2="0" y2="1"><stop offset="0" stop-color="#5a5a5a"/><stop offset="1" stop-color="#9a9a9a"/></linearGradient><linearGradient id="g4" x1="0" y1="0" x2="1" y2="1"><stop offset="0" stop-color="#f4f4f4"/><stop offset="1" stop-color="#c0c0c0"/></linearGradient></defs>
<g clip-path="url(#fc)">
<path d="M467.0,214.0 L474.0,208.0" fill="none" stroke="#888" stroke-width="2.2" stroke-linejoin="round" stroke-linecap="round" />
<path d="M467.0,214.0 L474.0,208.0" fill="none" stroke="#fff" stroke-width="0.8000000000000003" stroke-linejoin="round" stroke-linecap="round" />
<polygon points="509.5,208.5 526.0,208.5 512.0,236.0 505.0,250.0 498.5,253.0 502.0,228.0 503.5,225.0" fill="url(#g1)" stroke="none" stroke-width="0.8" stroke-linejoin="round" />
<polygon points="508.0,236.5 511.5,238.5 510.0,240.0 506.5,238.5" fill="#f0f0f0" stroke="none" stroke-width="0.8" stroke-linejoin="round" />
<path d="M509.5,208.5 L503.5,225 L502,228 L498.5,253" fill="none" stroke="#5a5a5a" stroke-width="1.2" stroke-linejoin="round" stroke-linecap="round" />
<path d="M504,263 C506,250 512,242 522,238 L534,235 L536,241 C524,244 516,250 512,262 Z" fill="url(#g4)" stroke="#b0b0b0" stroke-width="0.7" stroke-linejoin="round" stroke-linecap="round" />
<path d="M512,262 C515,252 522,246 532,243 L532,249 C525,252 519,257 517,263 Z" fill="#d8d8d8" stroke="#aaa" stroke-width="0.5" stroke-linejoin="round" stroke-linecap="round" />
<polygon points="500.0,258.0 512.0,256.0 517.0,262.0 506.0,266.0" fill="#e6e6e6" stroke="#bbb" stroke-width="0.5" stroke-linejoin="round" />
<polygon points="503.0,260.0 531.0,257.0 531.0,262.5 512.0,270.5 509.0,271.0" fill="#d4d4d4" stroke="#c0c0c0" stroke-width="0.5" stroke-linejoin="round" />
<path d="M511.5,271 C517,266 524,263 531,262.5" fill="none" stroke="#505050" stroke-width="1.0" stroke-linejoin="round" stroke-linecap="round" />
<polygon points="527.0,208.5 577.0,208.5 574.0,211.8 560.0,211.3 545.0,210.8 530.0,211.2" fill="#3a3a3a" stroke="none" stroke-width="0.8" stroke-linejoin="round" />
<path d="M558,209 C560,215 564,224 570,228.5 C576,232 583,229 582,224 C581,218 574,212 570,210" fill="none" stroke="#707070" stroke-width="4.4" stroke-linejoin="round" stroke-linecap="round" />
<path d="M558,209 C560,215 564,224 570,228.5 C576,232 583,229 582,224 C581,218 574,212 570,210" fill="none" stroke="#fbfbfb" stroke-width="3.0000000000000004" stroke-linejoin="round" stroke-linecap="round" />
<polygon points="577.0,208.5 598.0,208.5 604.0,246.0 593.0,251.0 589.5,244.0" fill="url(#g2)" stroke="none" stroke-width="0.8" stroke-linejoin="round" />
<polygon points="593.0,222.0 600.0,224.0 602.0,244.0 595.0,247.0" fill="#7c7c7c" stroke="none" stroke-width="0.8" stroke-linejoin="round" />
<polygon points="606.0,212.0 616.0,215.0 606.5,238.5 603.8,237.0" fill="url(#g3)" stroke="none" stroke-width="0.8" stroke-linejoin="round" />
<polygon points="616.0,215.0 618.5,216.5 607.5,245.0 604.8,243.5" fill="#f6f6f6" stroke="#9a9a9a" stroke-width="0.6" stroke-linejoin="round" />
<path d="M612.5,208.0 L612.8,213.0" fill="none" stroke="#888" stroke-width="2.4" stroke-linejoin="round" stroke-linecap="round" />
<path d="M612.5,208.0 L612.8,213.0" fill="none" stroke="#fff" stroke-width="1.0" stroke-linejoin="round" stroke-linecap="round" />
<polygon points="584.0,257.0 619.0,242.0 612.0,252.0 598.0,262.0 584.0,270.0" fill="#929292" stroke="#8a8a8a" stroke-width="0.6" stroke-linejoin="round" />
<polygon points="586.0,262.0 600.0,257.0 604.0,266.0 600.0,276.0 588.0,276.0" fill="#a0a0a0" stroke="none" stroke-width="0.8" stroke-linejoin="round" />
<polygon points="584.0,256.5 620.0,240.8 617.5,244.5 586.0,260.0" fill="#f4f4f4" stroke="#8a8a8a" stroke-width="0.6" stroke-linejoin="round" />
<path d="M618.5,241 L626,231 L632.5,222.5 C634,219 633,215 636,214.5 C639,214.5 639.5,219 636.5,220 C634.5,220.5 633.5,219 633.5,219 M633.5,219 L646,230 L657,242" fill="none" stroke="#777" stroke-width="2.8" stroke-linejoin="round" stroke-linecap="round" />
<path d="M618.5,241 L626,231 L632.5,222.5 C634,219 633,215 636,214.5 C639,214.5 639.5,219 636.5,220 C634.5,220.5 633.5,219 633.5,219 M633.5,219 L646,230 L657,242" fill="none" stroke="#fff" stroke-width="1.4" stroke-linejoin="round" stroke-linecap="round" />
<circle cx="636.3" cy="217.3" r="1.1" fill="#333"/>
<path d="M556,267.5 C560,262 566,255 572,252.5 C576,251 580,250 594,250" fill="none" stroke="#9a9a9a" stroke-width="4.6" stroke-linejoin="round" stroke-linecap="round" />
<path d="M556,267.5 C560,262 566,255 572,252.5 C576,251 580,250 594,250" fill="none" stroke="#f6f6f6" stroke-width="3.1999999999999997" stroke-linejoin="round" stroke-linecap="round" />
<polygon points="580.0,247.5 588.0,247.0 588.0,251.5 580.0,252.0" fill="#9a9a9a" stroke="none" stroke-width="0.8" stroke-linejoin="round" />
<polygon points="569.0,274.5 584.0,262.0 600.0,254.0 612.0,249.0 612.0,262.0 604.0,272.0 596.0,281.0 584.0,282.0 575.0,279.0" fill="#bcbcbc" stroke="none" stroke-width="0.8" stroke-linejoin="round" />
<polygon points="572.0,274.0 584.0,264.0 598.0,257.0 596.0,266.0 584.0,274.0 576.0,277.0" fill="#d6d6d6" stroke="none" stroke-width="0.8" stroke-linejoin="round" />
<polygon points="590.0,266.0 604.0,258.0 606.0,270.0 598.0,280.0 590.0,280.0" fill="#9c9c9c" stroke="none" stroke-width="0.8" stroke-linejoin="round" />
<path d="M569,274.5 L584,262 L600,254 L612,249" fill="none" stroke="#f4f4f4" stroke-width="1.3" stroke-linejoin="round" stroke-linecap="round" />
<path d="M550.5,264.5 L553.5,273 L565,259" fill="none" stroke="#8a8a8a" stroke-width="2.6" stroke-linejoin="round" stroke-linecap="round" />
<path d="M550.5,264.5 L553.5,273 L565,259" fill="none" stroke="#f8f8f8" stroke-width="1.2000000000000002" stroke-linejoin="round" stroke-linecap="round" />
<path d="M544,306 C550,302 558,299 567,296" fill="none" stroke="#8c8c8c" stroke-width="4.0" stroke-linejoin="round" stroke-linecap="round" />
<path d="M544,306 C550,302 558,299 567,296" fill="none" stroke="#c8c8c8" stroke-width="2.2" stroke-linejoin="round" stroke-linecap="round" />
<path d="M509,276 C512,269 519,264.5 531,263 L532,269 C524,270 517,273 513,278 Z" fill="#6c6c6c" stroke="none" stroke-width="1" stroke-linejoin="round" stroke-linecap="round" />
<polygon points="529.0,230.0 538.0,226.0 549.0,228.0 545.0,242.0 534.0,242.0" fill="#a6a6a6" stroke="none" stroke-width="0.8" stroke-linejoin="round" />
<polygon points="538.0,228.0 549.0,229.0 545.0,241.0 541.0,241.0" fill="#c4c4c4" stroke="none" stroke-width="0.8" stroke-linejoin="round" />
<path d="M528.2,229.3 L538.2,223.8 L550.0,224.7 L552.7,228.4" fill="none" stroke="#7a7a7a" stroke-width="4.08" stroke-linejoin="round" stroke-linecap="round" />
<path d="M528.2,229.3 L538.2,223.8 L550.0,224.7 L552.7,228.4" fill="none" stroke="#e8e8e8" stroke-width="2.68" stroke-linejoin="round" stroke-linecap="round" />
<path d="M531.0,232.0 L538.5,228.5 L548.0,229.5" fill="none" stroke="#7a7a7a" stroke-width="3.12" stroke-linejoin="round" stroke-linecap="round" />
<path d="M531.0,232.0 L538.5,228.5 L548.0,229.5" fill="none" stroke="#e8e8e8" stroke-width="1.7200000000000002" stroke-linejoin="round" stroke-linecap="round" />
<path d="M539.5,229.0 L539.5,234.0" fill="none" stroke="#7a7a7a" stroke-width="3.12" stroke-linejoin="round" stroke-linecap="round" />
<path d="M539.5,229.0 L539.5,234.0" fill="none" stroke="#e8e8e8" stroke-width="1.7200000000000002" stroke-linejoin="round" stroke-linecap="round" />
<path d="M539.5,234.0 L539.5,242.0" fill="none" stroke="#1a2690" stroke-width="3.36" stroke-linejoin="round" stroke-linecap="round" />
<path d="M539.5,234.0 L539.5,242.0" fill="none" stroke="#3848d0" stroke-width="1.96" stroke-linejoin="round" stroke-linecap="round" />
<path d="M551.0,226.0 L556.0,229.0" fill="none" stroke="#7a7a7a" stroke-width="2.88" stroke-linejoin="round" stroke-linecap="round" />
<path d="M551.0,226.0 L556.0,229.0" fill="none" stroke="#e8e8e8" stroke-width="1.48" stroke-linejoin="round" stroke-linecap="round" />
<path d="M556.0,226.5 L560.5,229.0" fill="none" stroke="#a01010" stroke-width="2.4" stroke-linejoin="round" stroke-linecap="round" />
<path d="M556.0,226.5 L560.5,229.0" fill="none" stroke="#e83a2a" stroke-width="1.0" stroke-linejoin="round" stroke-linecap="round" />
<path d="M555.0,230.0 L559.5,232.0" fill="none" stroke="#a01010" stroke-width="2.4" stroke-linejoin="round" stroke-linecap="round" />
<path d="M555.0,230.0 L559.5,232.0" fill="none" stroke="#e83a2a" stroke-width="1.0" stroke-linejoin="round" stroke-linecap="round" />
<line x1="555.0" y1="222.0" x2="560.0" y2="209.0" stroke="#999" stroke-width="0.8" stroke-linecap="round"/>
<path d="M488.0,265.8 L492.5,265.8" fill="none" stroke="#a01010" stroke-width="3.5999999999999996" stroke-linejoin="round" stroke-linecap="round" />
<path d="M488.0,265.8 L492.5,265.8" fill="none" stroke="#e83a2a" stroke-width="2.1999999999999997" stroke-linejoin="round" stroke-linecap="round" />
<path d="M492.5,265.8 L505.0,265.8" fill="none" stroke="#7a7a7a" stroke-width="3.5999999999999996" stroke-linejoin="round" stroke-linecap="round" />
<path d="M492.5,265.8 L505.0,265.8" fill="none" stroke="#e8e8e8" stroke-width="2.1999999999999997" stroke-linejoin="round" stroke-linecap="round" />
<path d="M496.0,254.5 L496.0,265.8" fill="none" stroke="#7a7a7a" stroke-width="3.12" stroke-linejoin="round" stroke-linecap="round" />
<path d="M496.0,254.5 L496.0,265.8" fill="none" stroke="#e8e8e8" stroke-width="1.7200000000000002" stroke-linejoin="round" stroke-linecap="round" />
<path d="M504.5,258.0 L504.5,266.0" fill="none" stroke="#7a7a7a" stroke-width="3.12" stroke-linejoin="round" stroke-linecap="round" />
<path d="M504.5,258.0 L504.5,266.0" fill="none" stroke="#e8e8e8" stroke-width="1.7200000000000002" stroke-linejoin="round" stroke-linecap="round" />
<path d="M505.3,269.4 L504.5,272.0" fill="none" stroke="#7a7a7a" stroke-width="3.5999999999999996" stroke-linejoin="round" stroke-linecap="round" />
<path d="M505.3,269.4 L504.5,272.0" fill="none" stroke="#e8e8e8" stroke-width="2.1999999999999997" stroke-linejoin="round" stroke-linecap="round" />
<path d="M504.5,272.0 L503.5,280.0" fill="none" stroke="#1a2690" stroke-width="3.5999999999999996" stroke-linejoin="round" stroke-linecap="round" />
<path d="M504.5,272.0 L503.5,280.0" fill="none" stroke="#3848d0" stroke-width="2.1999999999999997" stroke-linejoin="round" stroke-linecap="round" />
<path d="M503.5,280.0 L502.6,285.0" fill="none" stroke="#7a7a7a" stroke-width="3.5999999999999996" stroke-linejoin="round" stroke-linecap="round" />
<path d="M503.5,280.0 L502.6,285.0" fill="none" stroke="#e8e8e8" stroke-width="2.1999999999999997" stroke-linejoin="round" stroke-linecap="round" />
<path d="M498.8,272.5 L499.5,277.5" fill="none" stroke="#7a0a3a" stroke-width="2.0" stroke-linejoin="round" stroke-linecap="round" />
<path d="M498.8,272.5 L499.5,277.5" fill="none" stroke="#b81862" stroke-width="0.6000000000000001" stroke-linejoin="round" stroke-linecap="round" />
<path d="M473.0,307.0 L479.0,303.0" fill="none" stroke="#a01010" stroke-width="3.12" stroke-linejoin="round" stroke-linecap="round" />
<path d="M473.0,307.0 L479.0,303.0" fill="none" stroke="#e83a2a" stroke-width="1.7200000000000002" stroke-linejoin="round" stroke-linecap="round" />
<path d="M479.0,303.0 L486.0,299.0 L492.0,297.0" fill="none" stroke="#7a7a7a" stroke-width="3.36" stroke-linejoin="round" stroke-linecap="round" />
<path d="M479.0,303.0 L486.0,299.0 L492.0,297.0" fill="none" stroke="#e8e8e8" stroke-width="1.96" stroke-linejoin="round" stroke-linecap="round" />
<path d="M486.0,299.0 L485.0,294.0" fill="none" stroke="#a01010" stroke-width="2.88" stroke-linejoin="round" stroke-linecap="round" />
<path d="M486.0,299.0 L485.0,294.0" fill="none" stroke="#e83a2a" stroke-width="1.48" stroke-linejoin="round" stroke-linecap="round" />
<path d="M492.0,297.0 L497.0,298.0" fill="none" stroke="#1a2690" stroke-width="3.36" stroke-linejoin="round" stroke-linecap="round" />
<path d="M492.0,297.0 L497.0,298.0" fill="none" stroke="#3848d0" stroke-width="1.96" stroke-linejoin="round" stroke-linecap="round" />
<path d="M497.0,298.0 L503.0,296.0 L505.0,290.0" fill="none" stroke="#7a7a7a" stroke-width="3.12" stroke-linejoin="round" stroke-linecap="round" />
<path d="M497.0,298.0 L503.0,296.0 L505.0,290.0" fill="none" stroke="#e8e8e8" stroke-width="1.7200000000000002" stroke-linejoin="round" stroke-linecap="round" />
<path d="M482.0,305.0 L490.0,306.0 L496.0,309.0" fill="none" stroke="#7a7a7a" stroke-width="3.5999999999999996" stroke-linejoin="round" stroke-linecap="round" />
<path d="M482.0,305.0 L490.0,306.0 L496.0,309.0" fill="none" stroke="#e8e8e8" stroke-width="2.1999999999999997" stroke-linejoin="round" stroke-linecap="round" />
<path d="M484.0,300.0 L484.0,306.0" fill="none" stroke="#1a2690" stroke-width="3.12" stroke-linejoin="round" stroke-linecap="round" />
<path d="M484.0,300.0 L484.0,306.0" fill="none" stroke="#3848d0" stroke-width="1.7200000000000002" stroke-linejoin="round" stroke-linecap="round" />
<path d="M496.0,309.0 L500.0,313.0" fill="none" stroke="#1a2690" stroke-width="3.36" stroke-linejoin="round" stroke-linecap="round" />
<path d="M496.0,309.0 L500.0,313.0" fill="none" stroke="#3848d0" stroke-width="1.96" stroke-linejoin="round" stroke-linecap="round" />
<path d="M490.0,306.0 L492.0,314.0" fill="none" stroke="#7a7a7a" stroke-width="3.12" stroke-linejoin="round" stroke-linecap="round" />
<path d="M490.0,306.0 L492.0,314.0" fill="none" stroke="#e8e8e8" stroke-width="1.7200000000000002" stroke-linejoin="round" stroke-linecap="round" />
<path d="M499.0,302.0 L505.0,306.0" fill="none" stroke="#7a7a7a" stroke-width="2.88" stroke-linejoin="round" stroke-linecap="round" />
<path d="M499.0,302.0 L505.0,306.0" fill="none" stroke="#e8e8e8" stroke-width="1.48" stroke-linejoin="round" stroke-linecap="round" />
<path d="M480.0,304.0 L490.0,297.0" fill="none" stroke="#7a7a7a" stroke-width="3.12" stroke-linejoin="round" stroke-linecap="round" />
<path d="M480.0,304.0 L490.0,297.0" fill="none" stroke="#e8e8e8" stroke-width="1.7200000000000002" stroke-linejoin="round" stroke-linecap="round" />
<path d="M486.0,301.0 L497.0,304.0" fill="none" stroke="#7a7a7a" stroke-width="3.12" stroke-linejoin="round" stroke-linecap="round" />
<path d="M486.0,301.0 L497.0,304.0" fill="none" stroke="#e8e8e8" stroke-width="1.7200000000000002" stroke-linejoin="round" stroke-linecap="round" />
<path d="M488.0,311.0 L500.0,312.5" fill="none" stroke="#7a7a7a" stroke-width="3.12" stroke-linejoin="round" stroke-linecap="round" />
<path d="M488.0,311.0 L500.0,312.5" fill="none" stroke="#e8e8e8" stroke-width="1.7200000000000002" stroke-linejoin="round" stroke-linecap="round" />
<path d="M492.0,306.0 L497.0,309.0" fill="none" stroke="#1a2690" stroke-width="3.12" stroke-linejoin="round" stroke-linecap="round" />
<path d="M492.0,306.0 L497.0,309.0" fill="none" stroke="#3848d0" stroke-width="1.7200000000000002" stroke-linejoin="round" stroke-linecap="round" />
<path d="M497.0,292.0 L501.0,296.0" fill="none" stroke="#1a2690" stroke-width="3.12" stroke-linejoin="round" stroke-linecap="round" />
<path d="M497.0,292.0 L501.0,296.0" fill="none" stroke="#3848d0" stroke-width="1.7200000000000002" stroke-linejoin="round" stroke-linecap="round" />
<path d="M499.0,290.0 L506.0,296.0 L508.0,292.0" fill="none" stroke="#7a7a7a" stroke-width="2.88" stroke-linejoin="round" stroke-linecap="round" />
<path d="M499.0,290.0 L506.0,296.0 L508.0,292.0" fill="none" stroke="#e8e8e8" stroke-width="1.48" stroke-linejoin="round" stroke-linecap="round" />
<path d="M476.0,310.0 L484.0,306.0" fill="none" stroke="#7a7a7a" stroke-width="2.88" stroke-linejoin="round" stroke-linecap="round" />
<path d="M476.0,310.0 L484.0,306.0" fill="none" stroke="#e8e8e8" stroke-width="1.48" stroke-linejoin="round" stroke-linecap="round" />
<path d="M489,300 C489,310 492,318 494,326" fill="none" stroke="#8a8a8a" stroke-width="3.2" stroke-linejoin="round" stroke-linecap="round" />
<path d="M489,300 C489,310 492,318 494,326" fill="none" stroke="#f0f0f0" stroke-width="1.8000000000000003" stroke-linejoin="round" stroke-linecap="round" />
<path d="M493.5,314.5 L493.5,320.0" fill="none" stroke="#1a2690" stroke-width="3.36" stroke-linejoin="round" stroke-linecap="round" />
<path d="M493.5,314.5 L493.5,320.0" fill="none" stroke="#3848d0" stroke-width="1.96" stroke-linejoin="round" stroke-linecap="round" />
<line x1="483.0" y1="318.5" x2="491.0" y2="318.5" stroke="#aaa" stroke-width="1.0" stroke-linecap="round"/>
<path d="M504.5,327.5 C512,328 520,329 526,329.5" fill="none" stroke="#8a8a8a" stroke-width="3.0" stroke-linejoin="round" stroke-linecap="round" />
<path d="M504.5,327.5 C512,328 520,329 526,329.5" fill="none" stroke="#f2f2f2" stroke-width="1.6" stroke-linejoin="round" stroke-linecap="round" />
<path d="M526.5,326.0 L527.5,332.5" fill="none" stroke="#1a2690" stroke-width="3.5999999999999996" stroke-linejoin="round" stroke-linecap="round" />
<path d="M526.5,326.0 L527.5,332.5" fill="none" stroke="#3848d0" stroke-width="2.1999999999999997" stroke-linejoin="round" stroke-linecap="round" />
<path d="M560,306 C552,309 546,312 542,316 C537,320 534,325 531,329" fill="none" stroke="#8a8a8a" stroke-width="3.0" stroke-linejoin="round" stroke-linecap="round" />
<path d="M560,306 C552,309 546,312 542,316 C537,320 534,325 531,329" fill="none" stroke="#f2f2f2" stroke-width="1.6" stroke-linejoin="round" stroke-linecap="round" />
<path d="M530.5,327.0 L530.5,336.0" fill="none" stroke="#1a2690" stroke-width="3.36" stroke-linejoin="round" stroke-linecap="round" />
<path d="M530.5,327.0 L530.5,336.0" fill="none" stroke="#3848d0" stroke-width="1.96" stroke-linejoin="round" stroke-linecap="round" />
<path d="M530.5,336.0 L533.0,342.0" fill="none" stroke="#7a7a7a" stroke-width="3.36" stroke-linejoin="round" stroke-linecap="round" />
<path d="M530.5,336.0 L533.0,342.0" fill="none" stroke="#e8e8e8" stroke-width="1.96" stroke-linejoin="round" stroke-linecap="round" />
<path d="M533.0,342.0 L535.0,348.0" fill="none" stroke="#1a2690" stroke-width="3.36" stroke-linejoin="round" stroke-linecap="round" />
<path d="M533.0,342.0 L535.0,348.0" fill="none" stroke="#3848d0" stroke-width="1.96" stroke-linejoin="round" stroke-linecap="round" />
<path d="M535.0,348.0 L538.0,353.0 L549.5,355.5 L549.5,368.0" fill="none" stroke="#7a7a7a" stroke-width="3.36" stroke-linejoin="round" stroke-linecap="round" />
<path d="M535.0,348.0 L538.0,353.0 L549.5,355.5 L549.5,368.0" fill="none" stroke="#e8e8e8" stroke-width="1.96" stroke-linejoin="round" stroke-linecap="round" />
<path d="M540.0,353.0 L550.0,356.0 L552.0,368.0" fill="none" stroke="#7a7a7a" stroke-width="2.4" stroke-linejoin="round" stroke-linecap="round" />
<path d="M540.0,353.0 L550.0,356.0 L552.0,368.0" fill="none" stroke="#e8e8e8" stroke-width="1.0" stroke-linejoin="round" stroke-linecap="round" />
<path d="M550.0,326.5 L555.0,329.2" fill="none" stroke="#a01010" stroke-width="3.5999999999999996" stroke-linejoin="round" stroke-linecap="round" />
<path d="M550.0,326.5 L555.0,329.2" fill="none" stroke="#e83a2a" stroke-width="2.1999999999999997" stroke-linejoin="round" stroke-linecap="round" />
<path d="M555.0,329.2 L561.0,331.0 L566.4,334.5 L575.0,338.0 L581.0,341.8 L584.0,347.0 L582.0,354.5" fill="none" stroke="#7a7a7a" stroke-width="3.5999999999999996" stroke-linejoin="round" stroke-linecap="round" />
<path d="M555.0,329.2 L561.0,331.0 L566.4,334.5 L575.0,338.0 L581.0,341.8 L584.0,347.0 L582.0,354.5" fill="none" stroke="#e8e8e8" stroke-width="2.1999999999999997" stroke-linejoin="round" stroke-linecap="round" />
<path d="M566.0,337.0 L575.0,343.0 L583.0,346.0" fill="none" stroke="#7a7a7a" stroke-width="3.12" stroke-linejoin="round" stroke-linecap="round" />
<path d="M566.0,337.0 L575.0,343.0 L583.0,346.0" fill="none" stroke="#e8e8e8" stroke-width="1.7200000000000002" stroke-linejoin="round" stroke-linecap="round" />
<path d="M578.0,351.5 L582.0,354.5" fill="none" stroke="#1a2690" stroke-width="3.36" stroke-linejoin="round" stroke-linecap="round" />
<path d="M578.0,351.5 L582.0,354.5" fill="none" stroke="#3848d0" stroke-width="1.96" stroke-linejoin="round" stroke-linecap="round" />
<path d="M582.0,354.5 L574.0,359.0 L566.0,362.0 L560.0,366.0" fill="none" stroke="#7a7a7a" stroke-width="3.36" stroke-linejoin="round" stroke-linecap="round" />
<path d="M582.0,354.5 L574.0,359.0 L566.0,362.0 L560.0,366.0" fill="none" stroke="#e8e8e8" stroke-width="1.96" stroke-linejoin="round" stroke-linecap="round" />
<path d="M566.0,362.0 L585.0,364.0 L600.0,366.0" fill="none" stroke="#7a7a7a" stroke-width="3.12" stroke-linejoin="round" stroke-linecap="round" />
<path d="M566.0,362.0 L585.0,364.0 L600.0,366.0" fill="none" stroke="#e8e8e8" stroke-width="1.7200000000000002" stroke-linejoin="round" stroke-linecap="round" />
<path d="M562.0,366.0 L567.0,362.0" fill="none" stroke="#1a2690" stroke-width="2.88" stroke-linejoin="round" stroke-linecap="round" />
<path d="M562.0,366.0 L567.0,362.0" fill="none" stroke="#3848d0" stroke-width="1.48" stroke-linejoin="round" stroke-linecap="round" />
<path d="M570.0,324.5 L574.0,327.0" fill="none" stroke="#a01010" stroke-width="2.88" stroke-linejoin="round" stroke-linecap="round" />
<path d="M570.0,324.5 L574.0,327.0" fill="none" stroke="#e83a2a" stroke-width="1.48" stroke-linejoin="round" stroke-linecap="round" />
<path d="M568.5,327.5 L572.0,330.0" fill="none" stroke="#a01010" stroke-width="2.64" stroke-linejoin="round" stroke-linecap="round" />
<path d="M568.5,327.5 L572.0,330.0" fill="none" stroke="#e83a2a" stroke-width="1.2400000000000002" stroke-linejoin="round" stroke-linecap="round" />
<path d="M574.0,327.0 L580.0,322.0 L585.0,314.0" fill="none" stroke="#7a7a7a" stroke-width="3.5999999999999996" stroke-linejoin="round" stroke-linecap="round" />
<path d="M574.0,327.0 L580.0,322.0 L585.0,314.0" fill="none" stroke="#e8e8e8" stroke-width="2.1999999999999997" stroke-linejoin="round" stroke-linecap="round" />
<path d="M579.0,316.4 L584.0,320.0 L590.0,323.6" fill="none" stroke="#7a7a7a" stroke-width="3.5999999999999996" stroke-linejoin="round" stroke-linecap="round" />
<path d="M579.0,316.4 L584.0,320.0 L590.0,323.6" fill="none" stroke="#e8e8e8" stroke-width="2.1999999999999997" stroke-linejoin="round" stroke-linecap="round" />
<path d="M580.0,322.0 L579.5,330.0 L579.0,336.0" fill="none" stroke="#7a7a7a" stroke-width="3.5999999999999996" stroke-linejoin="round" stroke-linecap="round" />
<path d="M580.0,322.0 L579.5,330.0 L579.0,336.0" fill="none" stroke="#e8e8e8" stroke-width="2.1999999999999997" stroke-linejoin="round" stroke-linecap="round" />
<path d="M592.0,316.5 L598.0,324.0" fill="none" stroke="#7a7a7a" stroke-width="3.12" stroke-linejoin="round" stroke-linecap="round" />
<path d="M592.0,316.5 L598.0,324.0" fill="none" stroke="#e8e8e8" stroke-width="1.7200000000000002" stroke-linejoin="round" stroke-linecap="round" />
<path d="M614.5,341.5 L616.0,347.2 L624.2,342.7" fill="none" stroke="#7a7a7a" stroke-width="3.5999999999999996" stroke-linejoin="round" stroke-linecap="round" />
<path d="M614.5,341.5 L616.0,347.2 L624.2,342.7" fill="none" stroke="#e8e8e8" stroke-width="2.1999999999999997" stroke-linejoin="round" stroke-linecap="round" />
<path d="M616.0,347.2 L607.0,352.4 L607.0,357.7 L596.5,361.4 L588.0,363.0" fill="none" stroke="#7a7a7a" stroke-width="3.5999999999999996" stroke-linejoin="round" stroke-linecap="round" />
<path d="M616.0,347.2 L607.0,352.4 L607.0,357.7 L596.5,361.4 L588.0,363.0" fill="none" stroke="#e8e8e8" stroke-width="2.1999999999999997" stroke-linejoin="round" stroke-linecap="round" />
<path d="M592.0,357.0 L594.0,361.0" fill="none" stroke="#a01010" stroke-width="2.88" stroke-linejoin="round" stroke-linecap="round" />
<path d="M592.0,357.0 L594.0,361.0" fill="none" stroke="#e83a2a" stroke-width="1.48" stroke-linejoin="round" stroke-linecap="round" />
<path d="M595.0,366.0 L604.0,362.0 L620.0,364.0" fill="none" stroke="#9a9a9a" stroke-width="3.0" stroke-linejoin="round" stroke-linecap="round" />
<path d="M595.0,366.0 L604.0,362.0 L620.0,364.0" fill="none" stroke="#f0f0f0" stroke-width="1.6" stroke-linejoin="round" stroke-linecap="round" />
<path d="M603.0,365.0 L606.0,366.0" fill="none" stroke="#1a2690" stroke-width="2.4" stroke-linejoin="round" stroke-linecap="round" />
<path d="M603.0,365.0 L606.0,366.0" fill="none" stroke="#3848d0" stroke-width="1.0" stroke-linejoin="round" stroke-linecap="round" />
<path d="M580.0,366.0 L584.0,363.0" fill="none" stroke="#a01010" stroke-width="2.64" stroke-linejoin="round" stroke-linecap="round" />
<path d="M580.0,366.0 L584.0,363.0" fill="none" stroke="#e83a2a" stroke-width="1.2400000000000002" stroke-linejoin="round" stroke-linecap="round" />
<path d="M600.4,277.2 L603.6,270.4 L613.6,268.0 L621.6,272.8 L618.4,280.8 L608.0,282.4 Z" fill="none" stroke="#7a7a7a" stroke-width="3.36" stroke-linejoin="round" stroke-linecap="round" />
<path d="M600.4,277.2 L603.6,270.4 L613.6,268.0 L621.6,272.8 L618.4,280.8 L608.0,282.4 Z" fill="none" stroke="#e8e8e8" stroke-width="1.96" stroke-linejoin="round" stroke-linecap="round" />
<path d="M621.6,272.8 L626.4,271.5" fill="none" stroke="#7a7a7a" stroke-width="3.12" stroke-linejoin="round" stroke-linecap="round" />
<path d="M621.6,272.8 L626.4,271.5" fill="none" stroke="#e8e8e8" stroke-width="1.7200000000000002" stroke-linejoin="round" stroke-linecap="round" />
<path d="M626.4,271.5 L632.3,271.8" fill="none" stroke="#a01010" stroke-width="3.5999999999999996" stroke-linejoin="round" stroke-linecap="round" />
<path d="M626.4,271.5 L632.3,271.8" fill="none" stroke="#e83a2a" stroke-width="2.1999999999999997" stroke-linejoin="round" stroke-linecap="round" />
<line x1="632.3" y1="272.5" x2="632.6" y2="277.5" stroke="#ccc" stroke-width="1.5" stroke-linecap="round"/>
<path d="M600.4,277.2 L592.0,278.0" fill="none" stroke="#7a7a7a" stroke-width="3.12" stroke-linejoin="round" stroke-linecap="round" />
<path d="M600.4,277.2 L592.0,278.0" fill="none" stroke="#e8e8e8" stroke-width="1.7200000000000002" stroke-linejoin="round" stroke-linecap="round" />
<path d="M595.0,289.0 L597.0,300.0" fill="none" stroke="#555" stroke-width="2.4" stroke-linejoin="round" stroke-linecap="round" />
<path d="M595.0,289.0 L597.0,300.0" fill="none" stroke="#aaa" stroke-width="1.0" stroke-linejoin="round" stroke-linecap="round" />
<path d="M548.0,296.0 L551.6,297.2 L552.6,301.0" fill="none" stroke="#1a2690" stroke-width="3.12" stroke-linejoin="round" stroke-linecap="round" />
<path d="M548.0,296.0 L551.6,297.2 L552.6,301.0" fill="none" stroke="#3848d0" stroke-width="1.7200000000000002" stroke-linejoin="round" stroke-linecap="round" />
<path d="M566.5,274.0 L570.0,275.0" fill="none" stroke="#a01010" stroke-width="2.4" stroke-linejoin="round" stroke-linecap="round" />
<path d="M566.5,274.0 L570.0,275.0" fill="none" stroke="#e83a2a" stroke-width="1.0" stroke-linejoin="round" stroke-linecap="round" />
<path d="M585.0,263.0 L586.0,268.0" fill="none" stroke="#1a2690" stroke-width="2.88" stroke-linejoin="round" stroke-linecap="round" />
<path d="M585.0,263.0 L586.0,268.0" fill="none" stroke="#3848d0" stroke-width="1.48" stroke-linejoin="round" stroke-linecap="round" />
<path d="M583.0,296.0 L585.0,312.0" fill="none" stroke="#7a7a7a" stroke-width="3.12" stroke-linejoin="round" stroke-linecap="round" />
<path d="M583.0,296.0 L585.0,312.0" fill="none" stroke="#e8e8e8" stroke-width="1.7200000000000002" stroke-linejoin="round" stroke-linecap="round" />
<path d="M588.0,306.0 L592.0,318.0" fill="none" stroke="#7a7a7a" stroke-width="3.12" stroke-linejoin="round" stroke-linecap="round" />
<path d="M588.0,306.0 L592.0,318.0" fill="none" stroke="#e8e8e8" stroke-width="1.7200000000000002" stroke-linejoin="round" stroke-linecap="round" />
<path d="M591.0,312.0 L597.0,319.0" fill="none" stroke="#7a7a7a" stroke-width="2.88" stroke-linejoin="round" stroke-linecap="round" />
<path d="M591.0,312.0 L597.0,319.0" fill="none" stroke="#e8e8e8" stroke-width="1.48" stroke-linejoin="round" stroke-linecap="round" />
<path d="M585.0,312.0 L583.0,322.0" fill="none" stroke="#7a7a7a" stroke-width="3.12" stroke-linejoin="round" stroke-linecap="round" />
<path d="M585.0,312.0 L583.0,322.0" fill="none" stroke="#e8e8e8" stroke-width="1.7200000000000002" stroke-linejoin="round" stroke-linecap="round" />
<path d="M526.3,251.0 L531.5,244.4 L546.4,244.4 L551.7,250.6 L545.8,257.4 L533.2,257.4 Z" fill="none" stroke="#a8104f" stroke-width="3.6" stroke-linejoin="round" stroke-linecap="round" />
<path d="M526.3,251.0 L531.5,244.4 L546.4,244.4 L551.7,250.6 L545.8,257.4 L533.2,257.4 Z" fill="none" stroke="#e0227a" stroke-width="2.2" stroke-linejoin="round" stroke-linecap="round" />
<line x1="536.0" y1="255.2" x2="544.0" y2="255.2" stroke="#f080b0" stroke-width="1.0" stroke-linecap="round"/>
<path d="M533.2,257.4 L532.3,266.4 L540.7,268.3 L546.8,264.2" fill="none" stroke="#a8104f" stroke-width="3.4" stroke-linejoin="round" stroke-linecap="round" />
<path d="M533.2,257.4 L532.3,266.4 L540.7,268.3 L546.8,264.2" fill="none" stroke="#e0227a" stroke-width="2.0" stroke-linejoin="round" stroke-linecap="round" />
<path d="M546.8,264.2 L550.0,264.8" fill="none" stroke="#1a2690" stroke-width="3.84" stroke-linejoin="round" stroke-linecap="round" />
<path d="M546.8,264.2 L550.0,264.8" fill="none" stroke="#3848d0" stroke-width="2.44" stroke-linejoin="round" stroke-linecap="round" />
<path d="M545.8,257.4 L546.8,264.2" fill="none" stroke="#a8104f" stroke-width="3.2" stroke-linejoin="round" stroke-linecap="round" />
<path d="M545.8,257.4 L546.8,264.2" fill="none" stroke="#e0227a" stroke-width="1.8000000000000003" stroke-linejoin="round" stroke-linecap="round" />
<path d="M532.3,266.4 L524.4,268.6 L521.0,271.0 L520.8,281.5" fill="none" stroke="#a8104f" stroke-width="3.4" stroke-linejoin="round" stroke-linecap="round" />
<path d="M532.3,266.4 L524.4,268.6 L521.0,271.0 L520.8,281.5" fill="none" stroke="#e0227a" stroke-width="2.0" stroke-linejoin="round" stroke-linecap="round" />
<path d="M520.8,280.8 L509.0,285.3" fill="none" stroke="#a8104f" stroke-width="3.2" stroke-linejoin="round" stroke-linecap="round" />
<path d="M520.8,280.8 L509.0,285.3" fill="none" stroke="#e0227a" stroke-width="1.8000000000000003" stroke-linejoin="round" stroke-linecap="round" />
<path d="M509.0,285.3 L502.0,285.3" fill="none" stroke="#a01010" stroke-width="3.5999999999999996" stroke-linejoin="round" stroke-linecap="round" />
<path d="M509.0,285.3 L502.0,285.3" fill="none" stroke="#e83a2a" stroke-width="2.1999999999999997" stroke-linejoin="round" stroke-linecap="round" />
<path d="M509.2,286.0 L509.8,291.0" fill="none" stroke="#7a0a3a" stroke-width="2.8" stroke-linejoin="round" stroke-linecap="round" />
<path d="M509.2,286.0 L509.8,291.0" fill="none" stroke="#b81862" stroke-width="1.4" stroke-linejoin="round" stroke-linecap="round" />
<path d="M520.8,280.8 L523.7,284.7" fill="none" stroke="#a8104f" stroke-width="3.2" stroke-linejoin="round" stroke-linecap="round" />
<path d="M520.8,280.8 L523.7,284.7" fill="none" stroke="#e0227a" stroke-width="1.8000000000000003" stroke-linejoin="round" stroke-linecap="round" />
<path d="M523.7,284.7 L528.5,292.4" fill="none" stroke="#1a2690" stroke-width="3.84" stroke-linejoin="round" stroke-linecap="round" />
<path d="M523.7,284.7 L528.5,292.4" fill="none" stroke="#3848d0" stroke-width="2.44" stroke-linejoin="round" stroke-linecap="round" />
<path d="M528.5,292.4 L530.9,296.7 L538.0,299.5 L543.0,291.4 L547.8,290.5 L552.6,293.8 L563.6,291.4" fill="none" stroke="#a8104f" stroke-width="3.2" stroke-linejoin="round" stroke-linecap="round" />
<path d="M528.5,292.4 L530.9,296.7 L538.0,299.5 L543.0,291.4 L547.8,290.5 L552.6,293.8 L563.6,291.4" fill="none" stroke="#e0227a" stroke-width="1.8000000000000003" stroke-linejoin="round" stroke-linecap="round" />
<path d="M530.7,297.5 L530.5,301.5" fill="none" stroke="#7a0a3a" stroke-width="2.8" stroke-linejoin="round" stroke-linecap="round" />
<path d="M530.7,297.5 L530.5,301.5" fill="none" stroke="#b81862" stroke-width="1.4" stroke-linejoin="round" stroke-linecap="round" />
<path d="M538.5,300.5 L542.2,303.8" fill="none" stroke="#a01010" stroke-width="2.88" stroke-linejoin="round" stroke-linecap="round" />
<path d="M538.5,300.5 L542.2,303.8" fill="none" stroke="#e83a2a" stroke-width="1.48" stroke-linejoin="round" stroke-linecap="round" />
<path d="M552.6,293.8 L553.0,288.0" fill="none" stroke="#a8104f" stroke-width="2.6" stroke-linejoin="round" stroke-linecap="round" />
<path d="M552.6,293.8 L553.0,288.0" fill="none" stroke="#e0227a" stroke-width="1.2000000000000002" stroke-linejoin="round" stroke-linecap="round" />
<path d="M565.4,279.1 L578.4,279.6 L579.5,289.6 L573.1,297.3 L563.6,291.4 Z" fill="none" stroke="#a8104f" stroke-width="3.6" stroke-linejoin="round" stroke-linecap="round" />
<path d="M565.4,279.1 L578.4,279.6 L579.5,289.6 L573.1,297.3 L563.6,291.4 Z" fill="none" stroke="#e0227a" stroke-width="2.2" stroke-linejoin="round" stroke-linecap="round" />
<path d="M563.6,291.4 L556.0,293.8" fill="none" stroke="#a8104f" stroke-width="3.2" stroke-linejoin="round" stroke-linecap="round" />
<path d="M563.6,291.4 L556.0,293.8" fill="none" stroke="#e0227a" stroke-width="1.8000000000000003" stroke-linejoin="round" stroke-linecap="round" />
<path d="M579.5,289.6 L588.5,292.6 L589.0,302.8 L583.0,311.2 L572.4,308.7 L571.5,298.5 Z" fill="none" stroke="#a8104f" stroke-width="3.6" stroke-linejoin="round" stroke-linecap="round" />
<path d="M579.5,289.6 L588.5,292.6 L589.0,302.8 L583.0,311.2 L572.4,308.7 L571.5,298.5 Z" fill="none" stroke="#e0227a" stroke-width="2.2" stroke-linejoin="round" stroke-linecap="round" />
<path d="M588.1,293.1 L595.8,283.6 L605.8,287.8 L607.5,297.8 L600.5,307.2 L589.9,303.6 Z" fill="none" stroke="#a8104f" stroke-width="3.6" stroke-linejoin="round" stroke-linecap="round" />
<path d="M588.1,293.1 L595.8,283.6 L605.8,287.8 L607.5,297.8 L600.5,307.2 L589.9,303.6 Z" fill="none" stroke="#e0227a" stroke-width="2.2" stroke-linejoin="round" stroke-linecap="round" />
<path d="M607.5,297.8 L615.2,300.7 L612.5,309.0 L607.5,316.0 L598.1,314.8 L600.5,307.2 Z" fill="none" stroke="#a8104f" stroke-width="3.6" stroke-linejoin="round" stroke-linecap="round" />
<path d="M607.5,297.8 L615.2,300.7 L612.5,309.0 L607.5,316.0 L598.1,314.8 L600.5,307.2 Z" fill="none" stroke="#e0227a" stroke-width="2.2" stroke-linejoin="round" stroke-linecap="round" />
<path d="M612.5,309.0 L607.5,316.0 L598.1,314.8" fill="none" stroke="#7a0a3a" stroke-width="3.4" stroke-linejoin="round" stroke-linecap="round" />
<path d="M612.5,309.0 L607.5,316.0 L598.1,314.8" fill="none" stroke="#b81862" stroke-width="2.0" stroke-linejoin="round" stroke-linecap="round" />
<path d="M607.5,297.8 L615.2,300.7" fill="none" stroke="#a8104f" stroke-width="3.2" stroke-linejoin="round" stroke-linecap="round" />
<path d="M607.5,297.8 L615.2,300.7" fill="none" stroke="#e0227a" stroke-width="1.8000000000000003" stroke-linejoin="round" stroke-linecap="round" />
<path d="M578.0,300.0 L581.0,306.0" fill="none" stroke="#a8104f" stroke-width="3.0" stroke-linejoin="round" stroke-linecap="round" />
<path d="M578.0,300.0 L581.0,306.0" fill="none" stroke="#e0227a" stroke-width="1.6" stroke-linejoin="round" stroke-linecap="round" />
<path d="M595.8,283.6 L596.5,278.0" fill="none" stroke="#a8104f" stroke-width="2.6" stroke-linejoin="round" stroke-linecap="round" />
<path d="M595.8,283.6 L596.5,278.0" fill="none" stroke="#e0227a" stroke-width="1.2000000000000002" stroke-linejoin="round" stroke-linecap="round" />
<path d="M613.2,307.0 L617.5,310.0" fill="none" stroke="#a01010" stroke-width="3.36" stroke-linejoin="round" stroke-linecap="round" />
<path d="M613.2,307.0 L617.5,310.0" fill="none" stroke="#e83a2a" stroke-width="1.96" stroke-linejoin="round" stroke-linecap="round" />
<line x1="618.0" y1="309.5" x2="621.6" y2="306.0" stroke="#ddd" stroke-width="1.4" stroke-linecap="round"/>
<path d="M564.5,279.5 L563.5,276.5" fill="none" stroke="#7a0a3a" stroke-width="2.0" stroke-linejoin="round" stroke-linecap="round" />
<path d="M564.5,279.5 L563.5,276.5" fill="none" stroke="#b81862" stroke-width="0.6000000000000001" stroke-linejoin="round" stroke-linecap="round" />
<line x1="530.0" y1="232.0" x2="539.0" y2="253.0" stroke="#2ec46a" stroke-width="0.8" stroke-dasharray="1.2,1.0"/>
<line x1="539.0" y1="253.0" x2="548.0" y2="232.0" stroke="#2ec46a" stroke-width="0.8" stroke-dasharray="1.2,1.0"/>
<line x1="529.0" y1="231.0" x2="534.5" y2="242.0" stroke="#2ec46a" stroke-width="0.8" stroke-dasharray="1.2,1.0"/>
<line x1="549.0" y1="229.3" x2="543.6" y2="242.0" stroke="#2ec46a" stroke-width="0.8" stroke-dasharray="1.2,1.0"/>
<line x1="611.5" y1="274.5" x2="605.0" y2="307.7" stroke="#2ec46a" stroke-width="0.7" stroke-linecap="butt"/>
<line x1="577.0" y1="312.0" x2="570.2" y2="339.0" stroke="#2ec46a" stroke-width="0.7" stroke-linecap="butt"/>
<line x1="607.0" y1="312.0" x2="613.7" y2="339.7" stroke="#2ec46a" stroke-width="0.7" stroke-linecap="butt"/>
<line x1="608.5" y1="312.0" x2="623.4" y2="339.7" stroke="#2ec46a" stroke-width="0.7" stroke-linecap="butt"/>
<line x1="603.2" y1="318.0" x2="598.7" y2="324.0" stroke="#2ec46a" stroke-width="0.7" stroke-linecap="butt"/>
<line x1="597.8" y1="296.8" x2="590.0" y2="301.0" stroke="#2ec46a" stroke-width="0.7" stroke-linecap="butt"/>
<line x1="600.0" y1="290.0" x2="590.0" y2="301.0" stroke="#2ec46a" stroke-width="0.7" stroke-linecap="butt"/>
<line x1="611.5" y1="274.5" x2="604.0" y2="318.0" stroke="#2ec46a" stroke-width="0.7" stroke-linecap="butt"/>
<line x1="631.7" y1="280.2" x2="620.9" y2="304.8" stroke="#d8d820" stroke-width="1.3" stroke-dasharray="1.3,1.3"/>
<line x1="526.2" y1="324.0" x2="529.0" y2="304.0" stroke="#d8d820" stroke-width="1.3" stroke-dasharray="1.3,1.3"/>
<line x1="494.5" y1="293.2" x2="498.1" y2="288.9" stroke="#d8d820" stroke-width="1.3" stroke-dasharray="1.3,1.3"/>
<line x1="503.8" y1="299.0" x2="508.2" y2="294.0" stroke="#d8d820" stroke-width="1.3" stroke-dasharray="1.3,1.3"/>
</g>
<text x="528.4" y="219.6" font-weight="bold" font-size="7.6" fill="#111">Val147</text>
<text x="469.3" y="254.5" font-weight="bold" font-size="7.6" fill="#111">Thr145</text>
<text x="470.5" y="289.2" font-weight="bold" font-size="7.6" fill="#111">Asn143</text>
<text x="613.2" y="262.8" font-weight="bold" font-size="7.6" fill="#111">Tyr137</text>
<text x="537.6" y="317.0" font-weight="bold" font-size="7.6" fill="#111">Thr139</text>
<text x="479.7" y="330.8" font-weight="bold" font-size="7.6" fill="#111">Lys144</text>
<text x="583.6" y="332.4" font-weight="bold" font-size="7.6" fill="#111">Val219</text>
<text x="548.5" y="350.4" font-weight="bold" font-size="7.6" fill="#111">Tyr221</text>
<text x="519.4" y="362.2" font-weight="bold" font-size="7.6" fill="#111">Arg222</text>
<text x="615.9" y="359.3" font-weight="bold" font-size="7.6" fill="#111">Leu313</text>
<rect x="467.7" y="208.4" width="188.6" height="158.5" fill="none" stroke="#3a3a3a" stroke-width="1.1"/>
</svg>
</body></html>
